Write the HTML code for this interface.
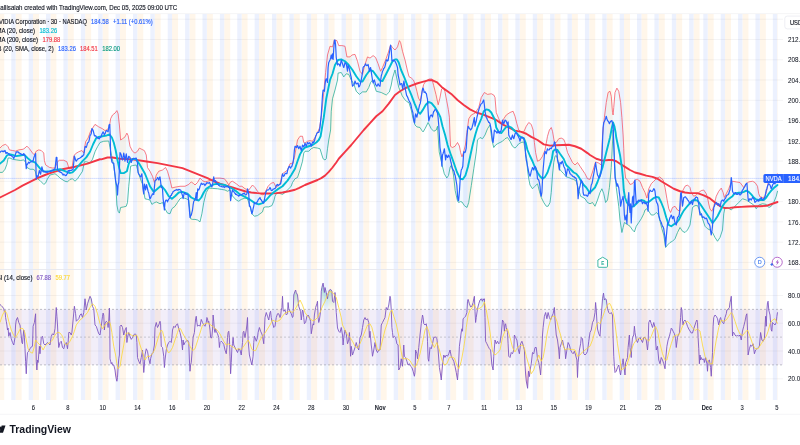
<!DOCTYPE html><html><head><meta charset="utf-8"><style>
html,body{margin:0;padding:0;background:#fff;}body{width:800px;height:445px;overflow:hidden;position:relative;}
svg{position:absolute;left:0;top:0;}text{font-family:"Liberation Sans",sans-serif;}
</style></head><body>
<svg width="800" height="445" viewBox="0 0 800 445">
<defs><clipPath id="cm"><rect x="0" y="14" width="783" height="255"/></clipPath>
<clipPath id="cr"><rect x="0" y="270" width="783" height="130"/></clipPath>
<clipPath id="ca"><rect x="0" y="14" width="783" height="386"/></clipPath></defs>
<g clip-path="url(#ca)">
<rect x="777.20" y="14" width="0.54" height="386" fill="#fff6ea"/>
<rect x="759.82" y="14" width="5.98" height="386" fill="#fff6ea"/>
<rect x="772.85" y="14" width="4.35" height="386" fill="#ecf1fe"/>
<rect x="742.44" y="14" width="5.98" height="386" fill="#fff6ea"/>
<rect x="755.47" y="14" width="4.35" height="386" fill="#ecf1fe"/>
<rect x="725.05" y="14" width="5.98" height="386" fill="#fff6ea"/>
<rect x="738.09" y="14" width="4.35" height="386" fill="#ecf1fe"/>
<rect x="707.67" y="14" width="5.98" height="386" fill="#fff6ea"/>
<rect x="720.71" y="14" width="4.35" height="386" fill="#ecf1fe"/>
<rect x="693.55" y="14" width="5.98" height="386" fill="#fff6ea"/>
<rect x="703.32" y="14" width="4.35" height="386" fill="#ecf1fe"/>
<rect x="676.16" y="14" width="5.98" height="386" fill="#fff6ea"/>
<rect x="689.20" y="14" width="4.35" height="386" fill="#ecf1fe"/>
<rect x="658.78" y="14" width="5.98" height="386" fill="#fff6ea"/>
<rect x="671.82" y="14" width="4.35" height="386" fill="#ecf1fe"/>
<rect x="641.40" y="14" width="5.98" height="386" fill="#fff6ea"/>
<rect x="654.44" y="14" width="4.35" height="386" fill="#ecf1fe"/>
<rect x="624.02" y="14" width="5.98" height="386" fill="#fff6ea"/>
<rect x="637.05" y="14" width="4.35" height="386" fill="#ecf1fe"/>
<rect x="606.64" y="14" width="5.98" height="386" fill="#fff6ea"/>
<rect x="619.67" y="14" width="4.35" height="386" fill="#ecf1fe"/>
<rect x="589.25" y="14" width="5.98" height="386" fill="#fff6ea"/>
<rect x="602.29" y="14" width="4.35" height="386" fill="#ecf1fe"/>
<rect x="571.87" y="14" width="5.98" height="386" fill="#fff6ea"/>
<rect x="584.91" y="14" width="4.35" height="386" fill="#ecf1fe"/>
<rect x="554.49" y="14" width="5.98" height="386" fill="#fff6ea"/>
<rect x="567.52" y="14" width="4.35" height="386" fill="#ecf1fe"/>
<rect x="537.11" y="14" width="5.98" height="386" fill="#fff6ea"/>
<rect x="550.14" y="14" width="4.35" height="386" fill="#ecf1fe"/>
<rect x="519.72" y="14" width="5.98" height="386" fill="#fff6ea"/>
<rect x="532.76" y="14" width="4.35" height="386" fill="#ecf1fe"/>
<rect x="502.34" y="14" width="5.98" height="386" fill="#fff6ea"/>
<rect x="515.38" y="14" width="4.35" height="386" fill="#ecf1fe"/>
<rect x="484.96" y="14" width="5.98" height="386" fill="#fff6ea"/>
<rect x="498.00" y="14" width="4.35" height="386" fill="#ecf1fe"/>
<rect x="467.58" y="14" width="5.98" height="386" fill="#fff6ea"/>
<rect x="480.61" y="14" width="4.35" height="386" fill="#ecf1fe"/>
<rect x="450.19" y="14" width="5.98" height="386" fill="#fff6ea"/>
<rect x="463.23" y="14" width="4.35" height="386" fill="#ecf1fe"/>
<rect x="432.81" y="14" width="5.98" height="386" fill="#fff6ea"/>
<rect x="445.85" y="14" width="4.35" height="386" fill="#ecf1fe"/>
<rect x="415.43" y="14" width="5.98" height="386" fill="#fff6ea"/>
<rect x="428.47" y="14" width="4.35" height="386" fill="#ecf1fe"/>
<rect x="398.05" y="14" width="5.98" height="386" fill="#fff6ea"/>
<rect x="411.08" y="14" width="4.35" height="386" fill="#ecf1fe"/>
<rect x="380.66" y="14" width="5.98" height="386" fill="#fff6ea"/>
<rect x="393.70" y="14" width="4.35" height="386" fill="#ecf1fe"/>
<rect x="363.28" y="14" width="5.98" height="386" fill="#fff6ea"/>
<rect x="376.32" y="14" width="4.35" height="386" fill="#ecf1fe"/>
<rect x="345.90" y="14" width="5.98" height="386" fill="#fff6ea"/>
<rect x="358.94" y="14" width="4.35" height="386" fill="#ecf1fe"/>
<rect x="328.52" y="14" width="5.98" height="386" fill="#fff6ea"/>
<rect x="341.55" y="14" width="4.35" height="386" fill="#ecf1fe"/>
<rect x="311.13" y="14" width="5.98" height="386" fill="#fff6ea"/>
<rect x="324.17" y="14" width="4.35" height="386" fill="#ecf1fe"/>
<rect x="293.75" y="14" width="5.98" height="386" fill="#fff6ea"/>
<rect x="306.79" y="14" width="4.35" height="386" fill="#ecf1fe"/>
<rect x="276.37" y="14" width="5.98" height="386" fill="#fff6ea"/>
<rect x="289.41" y="14" width="4.35" height="386" fill="#ecf1fe"/>
<rect x="258.99" y="14" width="5.98" height="386" fill="#fff6ea"/>
<rect x="272.02" y="14" width="4.35" height="386" fill="#ecf1fe"/>
<rect x="241.60" y="14" width="5.98" height="386" fill="#fff6ea"/>
<rect x="254.64" y="14" width="4.35" height="386" fill="#ecf1fe"/>
<rect x="224.22" y="14" width="5.98" height="386" fill="#fff6ea"/>
<rect x="237.26" y="14" width="4.35" height="386" fill="#ecf1fe"/>
<rect x="206.84" y="14" width="5.98" height="386" fill="#fff6ea"/>
<rect x="219.88" y="14" width="4.35" height="386" fill="#ecf1fe"/>
<rect x="189.46" y="14" width="5.98" height="386" fill="#fff6ea"/>
<rect x="202.49" y="14" width="4.35" height="386" fill="#ecf1fe"/>
<rect x="172.08" y="14" width="5.98" height="386" fill="#fff6ea"/>
<rect x="185.11" y="14" width="4.35" height="386" fill="#ecf1fe"/>
<rect x="154.69" y="14" width="5.98" height="386" fill="#fff6ea"/>
<rect x="167.73" y="14" width="4.35" height="386" fill="#ecf1fe"/>
<rect x="137.31" y="14" width="5.98" height="386" fill="#fff6ea"/>
<rect x="150.35" y="14" width="4.35" height="386" fill="#ecf1fe"/>
<rect x="119.93" y="14" width="5.98" height="386" fill="#fff6ea"/>
<rect x="132.96" y="14" width="4.35" height="386" fill="#ecf1fe"/>
<rect x="102.55" y="14" width="5.98" height="386" fill="#fff6ea"/>
<rect x="115.58" y="14" width="4.35" height="386" fill="#ecf1fe"/>
<rect x="85.16" y="14" width="5.98" height="386" fill="#fff6ea"/>
<rect x="98.20" y="14" width="4.35" height="386" fill="#ecf1fe"/>
<rect x="67.78" y="14" width="5.98" height="386" fill="#fff6ea"/>
<rect x="80.82" y="14" width="4.35" height="386" fill="#ecf1fe"/>
<rect x="50.40" y="14" width="5.98" height="386" fill="#fff6ea"/>
<rect x="63.44" y="14" width="4.35" height="386" fill="#ecf1fe"/>
<rect x="33.02" y="14" width="5.98" height="386" fill="#fff6ea"/>
<rect x="46.05" y="14" width="4.35" height="386" fill="#ecf1fe"/>
<rect x="15.63" y="14" width="5.98" height="386" fill="#fff6ea"/>
<rect x="28.67" y="14" width="4.35" height="386" fill="#ecf1fe"/>
<rect x="-1.75" y="14" width="5.98" height="386" fill="#fff6ea"/>
<rect x="11.29" y="14" width="4.35" height="386" fill="#ecf1fe"/>
</g>
<g stroke="#2a2e39" stroke-opacity="0.05" stroke-width="1">
<line x1="0" x2="783" y1="19.24" y2="19.24"/>
<line x1="0" x2="783" y1="39.50" y2="39.50"/>
<line x1="0" x2="783" y1="59.76" y2="59.76"/>
<line x1="0" x2="783" y1="80.03" y2="80.03"/>
<line x1="0" x2="783" y1="100.29" y2="100.29"/>
<line x1="0" x2="783" y1="120.56" y2="120.56"/>
<line x1="0" x2="783" y1="140.82" y2="140.82"/>
<line x1="0" x2="783" y1="161.08" y2="161.08"/>
<line x1="0" x2="783" y1="181.35" y2="181.35"/>
<line x1="0" x2="783" y1="201.61" y2="201.61"/>
<line x1="0" x2="783" y1="221.88" y2="221.88"/>
<line x1="0" x2="783" y1="242.14" y2="242.14"/>
<line x1="0" x2="783" y1="262.40" y2="262.40"/>
<line x1="0" x2="783" y1="295.50" y2="295.50"/>
<line x1="0" x2="783" y1="323.25" y2="323.25"/>
<line x1="0" x2="783" y1="351.00" y2="351.00"/>
<line x1="0" x2="783" y1="378.75" y2="378.75"/>
</g>
<line x1="0" x2="800" y1="13.6" y2="13.6" stroke="#f1f2f4" stroke-width="0.8"/>
<line x1="0" x2="800" y1="269.5" y2="269.5" stroke="#e6e8ee" stroke-width="0.9"/>
<g clip-path="url(#cm)" fill="none" stroke-linejoin="round" stroke-linecap="round">
<polygon points="0.00,148.00 2.50,145.50 5.62,144.25 8.12,146.75 9.38,149.88 12.50,150.50 15.62,151.12 18.75,149.88 23.12,149.25 25.00,148.00 26.88,146.12 29.38,148.62 32.50,153.00 34.38,154.88 36.25,151.12 38.75,149.88 41.25,150.50 43.75,153.00 44.38,160.50 45.62,164.88 49.38,167.38 52.50,168.00 55.00,168.00 57.50,161.75 59.38,160.25 63.75,160.25 66.88,161.75 68.12,165.50 68.75,168.00 71.88,168.62 73.75,156.12 75.62,153.62 78.75,151.75 81.88,150.50 83.75,153.00 85.62,141.75 88.12,138.00 90.62,131.12 95.00,124.38 98.75,126.88 102.50,128.75 105.00,130.62 107.50,129.38 109.38,126.88 110.62,118.75 112.50,115.00 115.00,113.12 116.88,110.62 118.12,113.75 119.38,125.00 120.62,140.00 122.50,138.75 125.00,136.88 126.88,133.12 128.12,135.62 130.00,146.25 132.50,151.25 135.00,153.12 137.50,151.25 139.38,148.12 141.88,149.38 144.38,150.62 146.25,155.00 147.50,167.50 150.00,171.25 152.50,176.25 154.40,182.50 156.25,175.00 158.75,171.25 162.50,170.00 165.60,167.50 167.50,171.25 170.00,180.00 171.90,188.00 175.00,187.20 180.00,186.25 185.00,186.25 188.75,184.40 191.25,181.90 193.75,183.75 195.00,185.00 197.50,182.50 200.00,178.10 202.50,180.60 205.00,181.90 207.50,181.25 211.25,180.00 215.60,178.10 220.00,178.10 224.40,178.75 226.90,181.90 228.75,185.00 230.60,181.90 232.50,181.25 236.25,183.75 239.40,186.25 241.90,186.25 245.00,188.75 248.75,190.00 252.50,185.00 255.00,187.50 257.50,191.25 260.00,193.75 263.10,195.00 265.60,191.25 268.10,186.25 271.25,183.10 273.75,182.50 276.25,187.50 278.10,185.60 280.00,183.75 282.50,173.75 285.00,171.90 287.50,170.00 290.00,163.75 292.50,163.10 294.40,157.50 297.50,140.00 300.00,136.25 302.50,136.25 303.75,142.50 305.00,143.10 307.50,141.25 310.00,140.60 312.50,141.25 315.00,137.50 317.50,132.50 319.50,128.00 321.50,115.00 323.50,95.00 325.60,72.50 327.50,55.00 330.00,46.25 332.50,46.90 334.40,40.00 336.90,40.60 338.75,45.60 341.90,45.60 345.00,46.25 346.90,56.90 350.00,56.90 351.90,55.00 355.00,54.40 357.50,61.25 360.00,71.25 362.50,74.40 364.40,66.25 367.50,56.90 370.00,58.10 373.10,55.60 375.60,57.50 378.10,63.75 380.60,71.25 382.50,67.50 385.60,60.00 388.10,53.10 390.60,45.00 392.50,47.50 395.00,50.00 397.50,46.90 399.40,40.60 400.60,42.50 402.50,51.25 405.00,60.00 407.30,70.00 409.00,76.70 411.20,77.90 413.50,80.10 415.20,84.60 416.90,91.30 418.50,98.10 420.20,100.90 421.90,92.50 423.60,84.60 425.80,81.20 429.20,79.00 432.00,79.00 433.70,85.70 436.00,94.70 438.20,104.80 439.90,98.10 441.60,89.10 443.30,88.00 444.90,91.30 446.60,100.30 448.30,109.30 449.40,117.20 450.00,135.00 450.50,146.25 452.50,147.50 455.00,146.25 457.50,142.50 459.40,146.00 460.60,152.50 462.00,156.90 463.70,151.90 465.40,145.00 466.90,132.50 468.75,118.75 471.25,115.00 475.00,113.10 478.75,107.50 481.25,97.50 484.40,92.50 487.50,94.40 491.25,93.75 493.75,95.00 495.00,97.50 496.25,112.50 498.75,118.75 501.25,123.75 503.75,118.75 506.25,115.00 510.00,112.50 513.10,111.25 515.00,116.25 516.90,123.75 518.75,130.00 521.25,131.90 523.75,131.90 526.25,126.25 528.75,122.50 531.25,124.40 533.10,130.00 534.40,142.50 535.60,152.50 537.50,161.25 540.00,160.00 542.50,156.25 545.00,150.00 547.50,136.25 549.40,130.00 551.25,127.50 552.50,131.25 554.40,142.50 556.25,142.50 558.75,138.75 561.25,138.10 563.75,139.40 565.00,142.50 567.50,152.50 570.00,157.50 572.50,162.50 575.00,165.00 577.50,162.50 580.00,166.25 582.50,170.00 585.00,173.75 587.50,178.75 590.00,179.40 592.50,172.00 595.60,161.90 598.75,163.10 601.25,165.00 602.50,136.00 604.40,117.50 606.25,102.50 608.10,92.50 610.00,91.25 611.25,96.25 612.50,112.50 613.10,115.00 613.75,107.50 615.00,92.50 616.90,88.10 618.75,91.25 620.60,102.50 621.90,117.50 623.10,135.00 623.75,148.75 624.40,167.50 625.60,178.00 627.50,180.00 630.00,184.40 632.50,183.75 635.00,180.00 637.50,179.40 640.00,181.25 642.50,187.50 645.00,192.50 646.90,198.10 648.75,188.75 651.25,183.75 653.75,181.25 656.25,178.75 659.40,176.90 661.25,178.10 663.10,180.00 665.00,187.50 666.90,198.75 668.75,208.75 670.60,212.50 672.50,207.50 675.00,206.25 677.50,210.00 680.00,211.25 681.25,195.00 683.10,190.00 685.00,186.25 687.50,185.00 690.00,187.50 691.25,192.50 693.75,196.25 696.25,195.00 698.75,192.50 701.25,190.60 703.75,190.00 706.25,193.75 707.50,197.50 708.75,204.00 710.00,209.00 711.90,211.25 713.75,206.25 715.60,198.75 716.25,196.25 718.75,191.25 721.25,188.10 723.10,192.50 724.40,197.50 726.25,193.75 728.75,188.75 730.60,183.75 732.50,181.25 736.25,181.90 740.00,182.50 741.90,185.00 743.75,187.50 746.25,183.75 748.75,181.90 752.50,181.25 755.00,182.50 757.50,186.25 758.75,193.75 760.00,196.90 762.50,197.50 765.00,196.90 766.90,190.00 768.10,182.50 770.00,178.00 773.00,176.00 777.50,174.00 777.50,191.25 776.25,196.25 773.75,202.50 771.25,206.25 768.75,207.50 766.25,204.40 762.50,203.75 758.75,205.00 756.25,208.75 753.75,205.00 750.00,202.50 746.25,200.00 742.50,198.75 738.75,202.50 735.00,206.25 731.25,210.00 727.50,207.50 725.00,207.50 723.75,213.75 722.50,230.00 720.00,237.50 717.50,241.25 715.00,237.50 712.50,232.50 710.00,230.00 707.50,228.75 705.00,226.25 702.50,218.75 700.00,211.25 697.50,205.60 695.00,205.60 692.50,207.50 690.00,225.00 687.50,230.00 685.00,232.50 682.50,231.25 680.00,227.50 677.50,232.50 675.00,238.75 672.50,241.25 670.00,242.50 667.50,245.00 665.60,247.50 663.75,235.00 661.90,228.75 660.00,221.25 658.10,214.00 656.25,212.50 653.75,215.00 651.25,215.00 648.75,211.25 646.90,208.75 645.00,210.00 643.75,213.75 641.25,218.75 638.75,222.50 636.25,226.25 634.40,231.90 632.50,230.00 630.00,226.25 628.10,225.00 626.25,223.75 624.40,222.50 623.10,227.50 621.90,232.50 620.00,220.00 618.75,206.25 616.25,187.50 615.00,170.00 614.00,150.00 613.10,130.00 611.90,155.00 611.25,167.50 610.60,175.00 609.40,187.50 607.50,200.00 605.60,202.50 603.75,193.75 601.90,188.75 600.00,192.50 597.50,200.00 595.00,206.25 592.50,202.50 590.00,203.75 587.50,202.50 585.00,198.75 583.10,197.50 580.60,196.25 578.75,190.00 576.25,181.25 573.75,179.40 571.25,178.75 568.75,177.50 566.25,176.90 563.75,173.75 561.25,171.25 559.40,168.75 557.50,158.75 556.25,155.60 555.00,156.25 553.75,162.50 552.50,175.00 551.25,192.50 550.00,202.50 548.10,206.25 546.25,206.25 543.75,202.50 541.25,197.50 539.40,191.25 537.50,183.75 535.00,186.25 532.50,188.75 530.00,185.00 528.75,178.75 527.50,170.00 526.90,160.00 525.60,152.50 523.75,141.90 521.25,142.50 518.75,143.75 516.90,146.25 515.00,148.10 512.50,146.25 510.00,141.25 507.50,137.50 505.00,138.75 502.50,141.25 500.00,142.50 497.50,143.75 495.60,145.00 493.75,147.50 492.50,142.50 491.25,135.00 490.00,125.00 487.50,128.75 485.00,135.00 482.50,138.75 480.00,137.50 477.50,140.00 476.30,151.90 473.80,168.70 471.30,185.60 468.70,202.50 467.00,207.50 464.50,205.80 462.00,202.00 460.50,201.60 458.60,202.50 457.50,201.00 455.20,190.60 453.50,175.00 451.50,165.00 450.20,167.00 448.50,175.50 446.80,178.00 444.30,173.80 441.75,163.70 439.20,151.90 437.50,126.25 436.25,130.00 433.75,131.25 431.25,128.75 429.40,125.00 428.10,122.50 426.90,125.00 425.00,128.75 423.10,131.90 421.90,130.60 420.00,127.50 416.90,126.90 415.00,125.00 413.10,118.75 411.25,110.00 409.00,102.60 406.70,101.50 404.50,99.20 402.20,95.80 400.00,90.20 398.75,87.50 395.00,70.00 392.50,78.00 391.25,85.00 389.40,91.90 386.25,95.00 381.25,92.50 376.25,91.25 374.00,84.00 372.50,80.00 370.60,82.50 368.75,87.50 366.25,91.90 362.50,91.90 359.40,94.40 356.25,91.25 353.75,83.75 351.25,80.00 348.75,74.40 346.25,73.75 343.75,76.90 341.25,72.50 338.10,73.10 337.50,80.00 335.00,90.00 332.50,98.75 331.25,111.25 330.60,130.00 328.75,140.00 327.50,148.75 326.25,158.75 325.00,160.00 323.10,158.75 321.90,155.00 320.00,148.75 317.50,148.10 313.75,147.50 311.25,148.75 308.75,151.25 305.00,151.25 303.75,153.10 302.50,161.25 300.00,170.00 297.50,177.50 295.00,178.75 292.50,182.50 291.25,186.00 290.00,187.50 287.50,190.00 285.00,192.50 282.50,194.40 278.75,193.10 276.25,193.75 275.00,196.25 273.75,201.25 271.90,205.60 268.75,206.90 265.60,206.90 263.75,207.50 262.50,211.90 260.00,213.75 257.50,215.60 254.40,216.25 251.90,213.75 250.00,206.25 247.50,198.75 245.00,198.10 241.25,199.40 238.75,201.25 236.25,200.00 232.50,196.00 230.00,190.00 227.50,191.25 225.00,190.00 221.25,189.40 217.50,188.75 212.50,188.40 208.75,188.10 206.25,192.50 203.75,202.50 201.90,213.75 200.00,221.90 197.50,220.00 195.00,219.40 192.50,219.40 190.60,218.75 188.75,200.00 186.25,198.75 182.50,197.50 180.00,198.75 177.50,202.50 175.00,206.25 171.90,208.75 170.00,213.75 167.50,213.10 165.00,208.75 162.50,202.50 160.00,203.75 156.25,201.90 153.75,203.10 151.90,204.40 150.00,200.00 147.50,199.40 145.00,198.75 142.50,184.00 141.25,181.25 138.10,171.90 136.25,165.00 132.50,165.60 130.60,166.25 129.40,180.00 128.75,186.25 127.50,202.50 126.25,206.25 123.75,206.90 120.60,207.50 119.40,213.10 118.10,211.25 116.90,205.00 115.60,180.00 113.75,166.25 110.00,147.50 108.75,141.00 103.75,141.25 100.00,142.50 97.50,146.75 95.00,151.75 92.50,159.25 90.00,163.00 86.25,161.75 84.38,161.75 82.50,171.25 80.00,175.00 77.50,178.75 75.00,181.25 72.50,178.75 70.00,179.38 67.50,181.88 65.00,181.25 60.00,178.12 57.50,175.62 55.00,173.75 50.00,175.00 47.50,178.75 45.62,183.12 43.75,184.38 40.00,180.50 38.12,179.25 36.25,175.50 35.00,170.50 33.12,169.25 30.00,169.25 26.88,167.38 25.62,162.38 23.75,159.88 20.62,160.50 16.25,159.88 12.50,159.25 10.00,158.00 8.12,158.00 6.88,164.25 5.00,169.25 2.50,172.38 0.00,172.38" fill="rgba(33,150,243,0.06)" stroke="none"/>
<polyline points="0.00,148.00 2.50,145.50 5.62,144.25 8.12,146.75 9.38,149.88 12.50,150.50 15.62,151.12 18.75,149.88 23.12,149.25 25.00,148.00 26.88,146.12 29.38,148.62 32.50,153.00 34.38,154.88 36.25,151.12 38.75,149.88 41.25,150.50 43.75,153.00 44.38,160.50 45.62,164.88 49.38,167.38 52.50,168.00 55.00,168.00 57.50,161.75 59.38,160.25 63.75,160.25 66.88,161.75 68.12,165.50 68.75,168.00 71.88,168.62 73.75,156.12 75.62,153.62 78.75,151.75 81.88,150.50 83.75,153.00 85.62,141.75 88.12,138.00 90.62,131.12 95.00,124.38 98.75,126.88 102.50,128.75 105.00,130.62 107.50,129.38 109.38,126.88 110.62,118.75 112.50,115.00 115.00,113.12 116.88,110.62 118.12,113.75 119.38,125.00 120.62,140.00 122.50,138.75 125.00,136.88 126.88,133.12 128.12,135.62 130.00,146.25 132.50,151.25 135.00,153.12 137.50,151.25 139.38,148.12 141.88,149.38 144.38,150.62 146.25,155.00 147.50,167.50 150.00,171.25 152.50,176.25 154.40,182.50 156.25,175.00 158.75,171.25 162.50,170.00 165.60,167.50 167.50,171.25 170.00,180.00 171.90,188.00 175.00,187.20 180.00,186.25 185.00,186.25 188.75,184.40 191.25,181.90 193.75,183.75 195.00,185.00 197.50,182.50 200.00,178.10 202.50,180.60 205.00,181.90 207.50,181.25 211.25,180.00 215.60,178.10 220.00,178.10 224.40,178.75 226.90,181.90 228.75,185.00 230.60,181.90 232.50,181.25 236.25,183.75 239.40,186.25 241.90,186.25 245.00,188.75 248.75,190.00 252.50,185.00 255.00,187.50 257.50,191.25 260.00,193.75 263.10,195.00 265.60,191.25 268.10,186.25 271.25,183.10 273.75,182.50 276.25,187.50 278.10,185.60 280.00,183.75 282.50,173.75 285.00,171.90 287.50,170.00 290.00,163.75 292.50,163.10 294.40,157.50 297.50,140.00 300.00,136.25 302.50,136.25 303.75,142.50 305.00,143.10 307.50,141.25 310.00,140.60 312.50,141.25 315.00,137.50 317.50,132.50 319.50,128.00 321.50,115.00 323.50,95.00 325.60,72.50 327.50,55.00 330.00,46.25 332.50,46.90 334.40,40.00 336.90,40.60 338.75,45.60 341.90,45.60 345.00,46.25 346.90,56.90 350.00,56.90 351.90,55.00 355.00,54.40 357.50,61.25 360.00,71.25 362.50,74.40 364.40,66.25 367.50,56.90 370.00,58.10 373.10,55.60 375.60,57.50 378.10,63.75 380.60,71.25 382.50,67.50 385.60,60.00 388.10,53.10 390.60,45.00 392.50,47.50 395.00,50.00 397.50,46.90 399.40,40.60 400.60,42.50 402.50,51.25 405.00,60.00 407.30,70.00 409.00,76.70 411.20,77.90 413.50,80.10 415.20,84.60 416.90,91.30 418.50,98.10 420.20,100.90 421.90,92.50 423.60,84.60 425.80,81.20 429.20,79.00 432.00,79.00 433.70,85.70 436.00,94.70 438.20,104.80 439.90,98.10 441.60,89.10 443.30,88.00 444.90,91.30 446.60,100.30 448.30,109.30 449.40,117.20 450.00,135.00 450.50,146.25 452.50,147.50 455.00,146.25 457.50,142.50 459.40,146.00 460.60,152.50 462.00,156.90 463.70,151.90 465.40,145.00 466.90,132.50 468.75,118.75 471.25,115.00 475.00,113.10 478.75,107.50 481.25,97.50 484.40,92.50 487.50,94.40 491.25,93.75 493.75,95.00 495.00,97.50 496.25,112.50 498.75,118.75 501.25,123.75 503.75,118.75 506.25,115.00 510.00,112.50 513.10,111.25 515.00,116.25 516.90,123.75 518.75,130.00 521.25,131.90 523.75,131.90 526.25,126.25 528.75,122.50 531.25,124.40 533.10,130.00 534.40,142.50 535.60,152.50 537.50,161.25 540.00,160.00 542.50,156.25 545.00,150.00 547.50,136.25 549.40,130.00 551.25,127.50 552.50,131.25 554.40,142.50 556.25,142.50 558.75,138.75 561.25,138.10 563.75,139.40 565.00,142.50 567.50,152.50 570.00,157.50 572.50,162.50 575.00,165.00 577.50,162.50 580.00,166.25 582.50,170.00 585.00,173.75 587.50,178.75 590.00,179.40 592.50,172.00 595.60,161.90 598.75,163.10 601.25,165.00 602.50,136.00 604.40,117.50 606.25,102.50 608.10,92.50 610.00,91.25 611.25,96.25 612.50,112.50 613.10,115.00 613.75,107.50 615.00,92.50 616.90,88.10 618.75,91.25 620.60,102.50 621.90,117.50 623.10,135.00 623.75,148.75 624.40,167.50 625.60,178.00 627.50,180.00 630.00,184.40 632.50,183.75 635.00,180.00 637.50,179.40 640.00,181.25 642.50,187.50 645.00,192.50 646.90,198.10 648.75,188.75 651.25,183.75 653.75,181.25 656.25,178.75 659.40,176.90 661.25,178.10 663.10,180.00 665.00,187.50 666.90,198.75 668.75,208.75 670.60,212.50 672.50,207.50 675.00,206.25 677.50,210.00 680.00,211.25 681.25,195.00 683.10,190.00 685.00,186.25 687.50,185.00 690.00,187.50 691.25,192.50 693.75,196.25 696.25,195.00 698.75,192.50 701.25,190.60 703.75,190.00 706.25,193.75 707.50,197.50 708.75,204.00 710.00,209.00 711.90,211.25 713.75,206.25 715.60,198.75 716.25,196.25 718.75,191.25 721.25,188.10 723.10,192.50 724.40,197.50 726.25,193.75 728.75,188.75 730.60,183.75 732.50,181.25 736.25,181.90 740.00,182.50 741.90,185.00 743.75,187.50 746.25,183.75 748.75,181.90 752.50,181.25 755.00,182.50 757.50,186.25 758.75,193.75 760.00,196.90 762.50,197.50 765.00,196.90 766.90,190.00 768.10,182.50 770.00,178.00 773.00,176.00 777.50,174.00" stroke="#f7525f" stroke-width="0.75"/>
<polyline points="0.00,172.38 2.50,172.38 5.00,169.25 6.88,164.25 8.12,158.00 10.00,158.00 12.50,159.25 16.25,159.88 20.62,160.50 23.75,159.88 25.62,162.38 26.88,167.38 30.00,169.25 33.12,169.25 35.00,170.50 36.25,175.50 38.12,179.25 40.00,180.50 43.75,184.38 45.62,183.12 47.50,178.75 50.00,175.00 55.00,173.75 57.50,175.62 60.00,178.12 65.00,181.25 67.50,181.88 70.00,179.38 72.50,178.75 75.00,181.25 77.50,178.75 80.00,175.00 82.50,171.25 84.38,161.75 86.25,161.75 90.00,163.00 92.50,159.25 95.00,151.75 97.50,146.75 100.00,142.50 103.75,141.25 108.75,141.00 110.00,147.50 113.75,166.25 115.60,180.00 116.90,205.00 118.10,211.25 119.40,213.10 120.60,207.50 123.75,206.90 126.25,206.25 127.50,202.50 128.75,186.25 129.40,180.00 130.60,166.25 132.50,165.60 136.25,165.00 138.10,171.90 141.25,181.25 142.50,184.00 145.00,198.75 147.50,199.40 150.00,200.00 151.90,204.40 153.75,203.10 156.25,201.90 160.00,203.75 162.50,202.50 165.00,208.75 167.50,213.10 170.00,213.75 171.90,208.75 175.00,206.25 177.50,202.50 180.00,198.75 182.50,197.50 186.25,198.75 188.75,200.00 190.60,218.75 192.50,219.40 195.00,219.40 197.50,220.00 200.00,221.90 201.90,213.75 203.75,202.50 206.25,192.50 208.75,188.10 212.50,188.40 217.50,188.75 221.25,189.40 225.00,190.00 227.50,191.25 230.00,190.00 232.50,196.00 236.25,200.00 238.75,201.25 241.25,199.40 245.00,198.10 247.50,198.75 250.00,206.25 251.90,213.75 254.40,216.25 257.50,215.60 260.00,213.75 262.50,211.90 263.75,207.50 265.60,206.90 268.75,206.90 271.90,205.60 273.75,201.25 275.00,196.25 276.25,193.75 278.75,193.10 282.50,194.40 285.00,192.50 287.50,190.00 290.00,187.50 291.25,186.00 292.50,182.50 295.00,178.75 297.50,177.50 300.00,170.00 302.50,161.25 303.75,153.10 305.00,151.25 308.75,151.25 311.25,148.75 313.75,147.50 317.50,148.10 320.00,148.75 321.90,155.00 323.10,158.75 325.00,160.00 326.25,158.75 327.50,148.75 328.75,140.00 330.60,130.00 331.25,111.25 332.50,98.75 335.00,90.00 337.50,80.00 338.10,73.10 341.25,72.50 343.75,76.90 346.25,73.75 348.75,74.40 351.25,80.00 353.75,83.75 356.25,91.25 359.40,94.40 362.50,91.90 366.25,91.90 368.75,87.50 370.60,82.50 372.50,80.00 374.00,84.00 376.25,91.25 381.25,92.50 386.25,95.00 389.40,91.90 391.25,85.00 392.50,78.00 395.00,70.00 398.75,87.50 400.00,90.20 402.20,95.80 404.50,99.20 406.70,101.50 409.00,102.60 411.25,110.00 413.10,118.75 415.00,125.00 416.90,126.90 420.00,127.50 421.90,130.60 423.10,131.90 425.00,128.75 426.90,125.00 428.10,122.50 429.40,125.00 431.25,128.75 433.75,131.25 436.25,130.00 437.50,126.25 439.20,151.90 441.75,163.70 444.30,173.80 446.80,178.00 448.50,175.50 450.20,167.00 451.50,165.00 453.50,175.00 455.20,190.60 457.50,201.00 458.60,202.50 460.50,201.60 462.00,202.00 464.50,205.80 467.00,207.50 468.70,202.50 471.30,185.60 473.80,168.70 476.30,151.90 477.50,140.00 480.00,137.50 482.50,138.75 485.00,135.00 487.50,128.75 490.00,125.00 491.25,135.00 492.50,142.50 493.75,147.50 495.60,145.00 497.50,143.75 500.00,142.50 502.50,141.25 505.00,138.75 507.50,137.50 510.00,141.25 512.50,146.25 515.00,148.10 516.90,146.25 518.75,143.75 521.25,142.50 523.75,141.90 525.60,152.50 526.90,160.00 527.50,170.00 528.75,178.75 530.00,185.00 532.50,188.75 535.00,186.25 537.50,183.75 539.40,191.25 541.25,197.50 543.75,202.50 546.25,206.25 548.10,206.25 550.00,202.50 551.25,192.50 552.50,175.00 553.75,162.50 555.00,156.25 556.25,155.60 557.50,158.75 559.40,168.75 561.25,171.25 563.75,173.75 566.25,176.90 568.75,177.50 571.25,178.75 573.75,179.40 576.25,181.25 578.75,190.00 580.60,196.25 583.10,197.50 585.00,198.75 587.50,202.50 590.00,203.75 592.50,202.50 595.00,206.25 597.50,200.00 600.00,192.50 601.90,188.75 603.75,193.75 605.60,202.50 607.50,200.00 609.40,187.50 610.60,175.00 611.25,167.50 611.90,155.00 613.10,130.00 614.00,150.00 615.00,170.00 616.25,187.50 618.75,206.25 620.00,220.00 621.90,232.50 623.10,227.50 624.40,222.50 626.25,223.75 628.10,225.00 630.00,226.25 632.50,230.00 634.40,231.90 636.25,226.25 638.75,222.50 641.25,218.75 643.75,213.75 645.00,210.00 646.90,208.75 648.75,211.25 651.25,215.00 653.75,215.00 656.25,212.50 658.10,214.00 660.00,221.25 661.90,228.75 663.75,235.00 665.60,247.50 667.50,245.00 670.00,242.50 672.50,241.25 675.00,238.75 677.50,232.50 680.00,227.50 682.50,231.25 685.00,232.50 687.50,230.00 690.00,225.00 692.50,207.50 695.00,205.60 697.50,205.60 700.00,211.25 702.50,218.75 705.00,226.25 707.50,228.75 710.00,230.00 712.50,232.50 715.00,237.50 717.50,241.25 720.00,237.50 722.50,230.00 723.75,213.75 725.00,207.50 727.50,207.50 731.25,210.00 735.00,206.25 738.75,202.50 742.50,198.75 746.25,200.00 750.00,202.50 753.75,205.00 756.25,208.75 758.75,205.00 762.50,203.75 766.25,204.40 768.75,207.50 771.25,206.25 773.75,202.50 776.25,196.25 777.50,191.25" stroke="#22ab94" stroke-width="0.75"/>
<line x1="0" x2="783" y1="178.41" y2="178.41" stroke="#2962ff" stroke-opacity="0.35" stroke-width="0.6" stroke-dasharray="1,1"/>
<polyline points="0.00,197.50 7.50,193.75 15.00,190.00 22.50,185.62 30.00,181.88 37.50,178.12 45.00,175.00 50.00,173.12 62.50,169.25 75.00,166.75 87.50,163.62 100.00,159.25 101.25,159.38 107.50,157.50 112.50,157.50 120.00,158.75 132.50,159.38 145.00,161.25 157.50,163.12 170.00,165.62 182.50,168.12 195.00,173.12 201.25,175.60 207.50,178.10 213.75,181.25 220.00,183.75 226.25,185.60 232.50,187.50 238.75,189.40 245.00,191.25 251.25,192.50 257.50,193.10 263.75,193.50 270.00,193.50 276.25,193.10 282.50,192.50 288.75,191.25 295.00,189.75 298.75,188.10 305.00,185.00 311.25,182.50 317.50,180.00 321.25,178.10 325.00,175.60 328.75,171.90 332.50,167.50 336.25,162.50 338.75,158.75 345.00,151.90 351.25,145.00 357.50,137.50 363.75,130.00 370.00,123.10 376.25,116.25 382.50,111.25 388.75,103.60 395.00,95.00 400.00,91.30 405.60,88.00 411.20,85.70 416.90,83.50 422.50,81.80 428.10,80.30 432.60,80.30 437.10,82.40 441.60,86.90 446.10,90.20 451.25,93.90 457.50,100.00 463.75,105.00 470.00,109.40 476.25,112.50 482.50,114.40 488.75,116.90 495.00,119.40 496.25,120.00 502.50,124.40 508.75,127.50 515.00,130.60 521.25,131.90 526.25,133.75 531.25,136.90 537.50,140.00 543.75,144.40 550.00,145.60 556.25,145.25 562.50,145.00 568.75,144.75 575.00,146.25 581.25,148.75 587.50,153.10 590.00,155.00 596.25,158.75 602.50,160.60 608.75,160.00 612.50,160.00 616.25,161.25 620.00,163.75 625.00,166.90 630.00,170.00 635.00,172.50 640.00,173.75 646.25,175.60 652.50,176.90 657.50,178.75 661.25,181.25 667.50,185.00 673.75,188.75 680.00,191.25 685.00,192.50 690.00,193.10 697.50,193.10 703.75,195.30 710.00,198.40 716.25,203.40 721.25,206.90 725.00,208.10 730.00,207.90 735.00,207.25 741.25,206.90 747.50,206.50 753.75,206.25 760.00,206.25 766.25,205.80 772.50,203.75 777.50,202.00" stroke="#f23645" stroke-width="1.9"/>
<polyline points="0.00,163.62 3.75,160.50 6.88,155.50 9.38,154.25 12.50,154.88 16.25,156.12 20.00,155.50 24.38,154.88 27.50,158.00 31.25,161.12 35.00,162.38 38.12,166.12 41.25,169.88 45.00,171.75 50.00,171.12 55.00,169.88 60.00,169.25 65.00,171.12 69.38,173.00 72.50,172.38 75.62,169.25 78.75,165.50 82.50,161.12 86.25,157.38 90.00,151.75 93.12,144.25 96.25,138.00 98.75,136.88 102.50,136.25 106.25,135.62 109.38,134.38 111.88,137.50 113.75,142.50 115.62,150.00 117.50,160.00 119.40,168.75 120.60,173.10 123.75,173.10 126.90,171.25 128.75,163.75 130.60,160.00 133.10,158.75 136.25,159.40 140.00,165.00 145.00,173.75 147.50,180.00 150.00,186.25 153.75,191.90 157.50,188.75 161.25,185.60 165.00,190.00 168.75,196.25 171.90,198.75 175.00,196.25 178.75,192.50 182.50,191.90 187.50,193.75 191.25,197.50 195.00,199.40 198.75,200.50 201.25,197.50 203.75,192.50 206.25,188.75 210.00,186.25 213.75,184.40 217.50,183.75 221.25,184.40 225.00,185.00 228.75,186.90 232.50,188.75 236.25,191.25 240.00,194.40 245.00,196.90 250.00,199.70 255.00,203.10 258.75,204.40 262.50,203.10 266.25,200.00 270.00,195.60 273.75,192.20 277.50,189.40 282.50,186.25 287.50,180.60 291.25,175.00 295.00,168.75 297.50,161.25 300.00,154.40 302.50,150.00 305.00,147.50 308.75,146.25 312.50,145.00 316.25,142.50 318.75,140.00 320.60,136.25 323.75,117.50 326.25,98.75 328.75,86.25 330.00,80.00 332.50,73.75 335.00,65.00 338.10,60.00 341.25,59.40 345.00,61.25 348.75,65.00 352.50,70.00 356.25,76.25 360.00,81.25 362.50,81.50 366.25,75.00 370.00,70.00 373.10,71.25 376.25,75.60 380.00,80.60 382.50,81.00 386.25,73.75 390.00,66.25 392.50,61.25 395.00,59.40 396.90,59.40 398.75,62.50 401.10,70.00 404.50,77.90 407.90,86.90 411.20,94.70 414.60,103.70 418.00,111.60 420.20,113.80 422.50,110.40 425.80,104.80 428.70,102.00 431.50,103.10 434.80,107.10 438.20,112.70 440.40,117.20 442.50,126.25 445.10,135.00 447.60,145.00 451.00,155.20 453.50,162.00 456.90,172.00 460.30,178.80 462.80,179.30 465.40,175.50 467.90,167.00 470.40,155.20 473.00,143.40 475.50,134.00 477.50,127.50 481.25,118.75 483.75,111.25 486.25,109.40 488.75,110.00 491.25,112.50 493.75,117.50 495.00,120.00 496.25,127.50 498.75,131.90 501.25,133.10 503.75,130.00 506.25,126.90 508.75,126.25 511.25,127.50 513.75,130.00 516.25,132.50 518.75,135.60 521.25,137.50 523.75,138.10 525.60,142.50 527.50,150.00 530.00,156.00 532.50,161.25 535.00,167.50 537.50,172.50 540.00,176.25 542.50,178.75 545.00,176.90 547.50,172.50 550.00,165.00 551.90,158.75 553.10,151.25 555.00,149.40 557.50,150.00 560.00,153.75 563.75,159.00 566.25,165.00 568.75,167.50 571.25,170.00 573.75,172.50 576.25,173.75 578.75,176.90 581.25,181.25 583.75,185.00 586.25,187.50 588.75,191.25 590.00,192.50 592.50,190.00 595.00,187.50 597.50,182.00 600.00,175.00 602.50,167.50 605.00,157.50 607.50,147.50 610.00,137.50 611.90,127.50 613.10,122.50 614.40,126.25 615.60,132.50 616.25,137.50 618.10,146.25 620.00,155.00 621.90,167.50 623.10,180.00 623.75,190.00 625.00,197.50 626.90,202.50 628.75,205.00 631.25,206.90 633.75,206.25 636.25,203.75 638.75,201.25 641.25,200.00 643.75,200.60 646.25,202.50 648.75,201.90 651.25,200.00 653.75,198.10 656.25,196.90 658.75,197.50 661.25,202.50 663.75,208.75 666.25,217.50 668.75,225.00 671.25,226.25 673.75,224.40 676.25,223.10 678.75,220.00 681.25,215.00 683.75,210.60 686.25,207.50 690.00,203.10 692.50,200.50 695.00,200.00 697.50,200.60 700.00,203.75 702.50,207.50 705.00,211.25 707.50,215.00 710.00,218.75 712.50,223.10 715.00,220.00 717.50,216.25 720.00,211.25 722.50,206.25 725.00,202.50 727.50,200.00 730.00,198.10 732.50,196.25 733.75,194.40 736.25,193.10 738.75,192.75 741.25,192.75 743.75,191.90 746.25,190.60 748.75,191.90 751.25,194.40 753.75,197.50 756.25,199.40 758.75,200.00 761.25,200.00 763.75,200.00 766.25,197.50 768.75,193.75 771.25,190.60 773.75,188.10 777.50,185.00" stroke="#00bcd4" stroke-width="1.9"/>
<polyline points="0.00,152.38 0.63,151.71 1.25,151.05 1.88,151.12 2.50,151.54 3.13,150.94 3.75,151.75 4.38,151.18 5.00,150.50 6.00,153.62 6.88,152.38 7.50,152.81 8.12,153.62 8.75,153.63 9.38,154.88 10.00,155.20 10.62,155.50 11.25,155.27 11.87,156.24 12.50,156.75 13.12,157.08 13.75,158.62 14.38,156.80 15.00,156.12 15.62,153.83 16.25,151.75 16.88,152.21 17.50,151.75 18.12,151.85 18.75,153.00 19.37,152.82 20.00,153.59 20.62,153.62 21.25,154.56 21.88,154.25 22.50,154.67 23.12,154.88 23.75,153.62 24.38,154.42 25.00,155.50 25.62,160.50 26.25,168.62 26.88,164.25 27.50,164.29 28.12,163.00 28.75,162.16 29.37,163.09 30.00,162.38 30.63,161.88 31.25,161.46 31.88,161.75 32.50,160.90 33.12,161.12 33.75,158.00 34.38,156.17 35.00,154.88 35.62,153.62 36.25,179.25 36.88,175.50 37.50,176.57 38.12,176.75 38.75,173.18 39.38,170.50 40.00,172.49 40.62,174.25 41.25,170.69 41.88,166.75 42.50,169.07 43.12,171.75 43.75,171.82 44.38,171.75 45.00,171.35 45.63,171.55 46.25,172.38 46.88,171.81 47.50,172.32 48.12,171.81 48.75,171.75 49.38,171.33 50.00,171.55 50.62,171.21 51.25,171.12 51.87,170.43 52.50,170.71 53.12,169.88 53.75,169.95 54.37,169.10 55.00,169.25 55.62,163.42 56.25,157.38 56.88,157.38 57.50,169.25 58.12,170.22 58.75,171.12 59.38,171.96 60.00,171.75 60.62,172.39 61.25,172.38 61.88,173.02 62.50,174.25 63.13,175.13 63.75,174.14 64.38,174.88 65.00,174.97 65.63,175.65 66.25,175.50 66.88,174.07 67.50,173.62 68.12,170.50 68.75,170.79 69.38,171.12 70.00,170.16 70.62,170.50 71.25,170.43 71.88,169.88 72.50,169.94 73.12,169.25 73.75,162.79 74.38,156.12 75.00,158.00 75.62,160.09 76.25,161.12 76.87,160.03 77.50,159.73 78.12,158.62 78.75,158.55 79.37,158.32 80.00,158.00 80.63,157.31 81.25,157.22 81.88,156.12 82.50,156.33 83.13,155.26 83.75,154.88 84.38,151.04 85.00,146.75 85.62,146.45 86.25,147.38 86.88,145.47 87.50,143.00 88.12,142.58 88.75,141.75 89.38,139.32 90.00,135.50 90.62,135.01 91.25,133.62 91.88,128.62 92.50,129.26 93.12,130.50 93.75,132.84 94.38,135.50 95.00,136.15 95.63,135.66 96.25,136.75 96.87,137.32 97.50,137.53 98.12,138.62 98.75,138.15 99.38,138.75 100.00,137.30 100.63,137.46 101.25,136.25 101.87,134.27 102.50,132.98 103.12,131.88 103.75,133.29 104.38,135.00 105.00,133.96 105.62,131.88 106.25,130.66 106.88,130.62 107.50,131.18 108.12,131.88 109.00,125.00 109.75,124.38 110.25,137.50 110.62,155.00 111.25,158.51 111.88,161.88 112.50,162.83 113.13,163.15 113.75,163.12 114.37,169.67 115.00,174.90 115.62,181.25 116.25,183.63 116.88,186.25 117.25,191.25 117.50,195.00 118.10,185.00 118.75,182.50 119.40,168.75 120.00,152.50 120.62,153.55 121.25,155.00 121.88,158.04 122.50,160.00 123.12,157.19 123.75,153.10 124.38,156.69 125.00,161.25 125.62,157.05 126.25,153.75 126.88,157.75 127.50,162.50 128.12,159.00 128.75,156.25 129.38,156.85 130.00,157.50 130.62,160.12 131.25,162.50 131.88,160.62 132.50,159.40 133.13,158.49 133.77,158.85 134.40,158.75 135.02,158.35 135.63,158.41 136.25,158.10 136.88,160.93 137.50,162.50 138.10,172.50 138.75,174.02 139.40,175.00 140.00,175.97 140.60,176.90 141.25,175.49 141.90,173.75 142.50,182.12 143.10,190.00 143.75,194.00 144.40,184.00 145.00,186.38 145.60,190.00 146.50,184.50 147.50,188.75 148.12,191.43 148.75,193.00 149.38,196.39 150.00,199.00 150.62,198.02 151.25,196.00 151.88,195.29 152.50,193.75 153.12,193.92 153.75,194.40 154.38,187.68 155.00,181.25 155.62,180.07 156.25,180.00 156.88,178.94 157.50,177.50 158.12,178.14 158.75,180.00 159.38,177.84 160.00,176.90 160.62,181.79 161.25,187.50 161.88,187.65 162.50,188.75 163.10,198.75 163.75,204.15 164.40,210.00 165.00,202.50 165.62,200.62 166.25,200.00 166.88,200.25 167.50,201.90 168.12,200.31 168.75,199.14 169.38,198.41 170.00,197.50 170.63,195.59 171.27,195.52 171.90,193.75 172.52,193.08 173.13,191.59 173.75,191.25 174.38,190.59 175.00,190.41 175.62,190.12 176.25,190.00 176.88,189.32 177.50,190.19 178.12,190.24 178.75,189.40 179.37,189.55 179.98,189.78 180.60,190.00 181.25,191.30 181.90,193.75 182.50,195.69 183.10,198.75 183.75,195.40 184.40,192.50 185.02,192.80 185.63,194.23 186.25,194.40 186.87,194.13 187.48,194.13 188.10,195.00 188.73,203.13 189.37,210.04 190.00,217.50 190.62,215.76 191.25,215.00 191.88,212.56 192.50,210.00 193.12,204.96 193.75,201.25 194.38,200.66 195.00,200.00 195.60,197.50 196.25,192.50 196.90,200.00 197.75,188.75 198.75,190.00 199.38,188.79 200.00,186.25 200.62,185.18 201.25,183.10 201.88,184.02 202.50,184.40 203.12,183.74 203.75,183.75 204.38,184.49 205.00,185.60 205.63,184.10 206.27,183.91 206.90,182.50 207.50,182.85 208.10,183.10 208.75,183.19 209.40,182.50 210.00,183.51 210.60,185.00 211.25,185.56 211.90,186.90 212.50,184.51 213.10,181.25 213.75,176.90 214.40,181.25 215.00,181.60 215.60,180.60 216.25,182.34 216.90,183.10 217.50,184.18 218.10,184.40 218.75,185.45 219.40,185.60 220.00,186.26 220.60,186.25 221.23,186.08 221.87,186.71 222.50,186.90 223.13,186.90 223.77,186.64 224.40,187.50 225.02,186.64 225.63,186.79 226.25,186.90 226.87,186.35 227.48,186.74 228.10,186.25 228.75,187.51 229.40,187.50 230.00,190.00 230.60,200.60 231.25,196.48 231.90,192.50 232.50,190.00 233.12,191.24 233.75,191.25 234.38,192.86 235.00,193.10 235.63,194.37 236.27,194.18 236.90,195.00 237.52,195.03 238.13,195.45 238.75,196.25 239.37,195.41 239.98,195.00 240.60,195.00 241.23,194.76 241.87,194.73 242.50,193.75 243.13,194.01 243.77,193.29 244.40,193.10 245.00,194.26 245.60,195.00 246.25,194.79 246.90,193.75 247.50,188.75 248.10,191.25 248.75,194.00 249.40,206.25 250.00,206.29 250.60,207.50 251.25,210.85 251.90,213.75 252.50,211.82 253.10,208.75 253.75,206.02 254.40,202.50 255.02,203.27 255.63,203.30 256.25,203.75 256.87,202.05 257.48,201.65 258.10,200.00 258.73,198.93 259.37,198.75 260.00,197.50 260.63,199.41 261.27,199.85 261.90,201.25 262.52,201.73 263.13,203.11 263.75,203.10 264.38,199.99 265.00,196.25 265.62,193.29 266.25,191.25 266.87,190.31 267.48,189.93 268.10,190.00 268.73,189.73 269.37,188.76 270.00,187.50 270.62,188.55 271.25,190.60 271.87,190.52 272.48,190.21 273.10,189.00 273.73,189.14 274.37,188.62 275.00,188.75 275.63,187.57 276.27,185.73 276.90,185.00 277.52,184.32 278.13,185.66 278.75,185.00 279.37,184.79 279.98,184.20 280.60,183.75 281.23,181.02 281.87,176.99 282.50,173.75 283.12,175.52 283.75,176.25 284.38,175.46 285.00,173.75 285.63,173.35 286.27,173.40 286.90,173.75 287.50,170.96 288.10,168.75 288.75,167.14 289.40,166.25 290.00,167.30 290.60,168.10 291.25,166.84 291.90,166.25 292.50,164.26 293.10,162.50 293.75,157.50 294.40,150.00 295.00,146.25 295.62,146.36 296.25,147.50 296.88,147.12 297.50,145.60 298.12,146.97 298.75,148.75 299.38,147.44 300.00,146.25 300.62,148.54 301.25,150.60 301.88,148.37 302.50,145.00 303.12,145.84 303.75,146.90 304.38,145.58 305.00,143.10 305.62,144.68 306.25,146.25 306.88,144.42 307.50,142.50 308.12,143.16 308.75,143.75 309.38,142.75 310.00,143.10 310.62,144.59 311.25,146.25 311.88,143.93 312.50,142.50 313.12,141.81 313.75,142.50 314.38,141.04 315.00,138.75 315.62,136.42 316.25,135.00 316.90,133.10 317.50,132.50 318.12,132.46 318.75,132.50 319.38,130.32 320.00,127.50 320.62,121.33 321.25,115.00 321.90,105.00 322.50,95.00 323.10,90.00 323.75,90.38 324.40,91.25 325.00,85.00 325.60,80.00 326.25,78.75 326.88,80.65 327.50,82.50 328.10,67.50 328.75,62.50 329.38,61.33 330.00,60.00 330.62,57.90 331.25,55.00 331.90,58.75 332.50,53.75 333.10,59.40 333.75,49.15 334.40,40.00 335.00,40.00 335.60,45.00 336.25,57.50 336.88,61.33 337.50,65.00 338.12,64.02 338.75,63.75 339.38,64.69 340.00,66.25 340.62,63.51 341.25,60.00 341.88,61.89 342.50,63.75 343.12,65.71 343.75,67.50 344.38,65.36 345.00,62.50 345.62,63.70 346.25,63.75 346.88,67.42 347.50,71.25 348.10,65.00 348.75,67.03 349.40,68.75 350.00,71.88 350.60,75.00 351.25,77.50 351.90,82.50 352.50,86.25 353.13,85.43 353.77,84.85 354.40,83.75 355.00,81.00 355.62,82.43 356.25,84.00 356.87,83.75 357.48,83.37 358.10,83.10 358.75,86.90 359.38,86.57 360.00,85.00 360.62,82.78 361.25,80.00 361.87,76.36 362.48,72.29 363.10,67.50 363.75,66.54 364.40,66.25 365.00,65.08 365.60,63.75 366.25,65.30 366.90,65.60 367.50,65.48 368.10,64.40 368.75,67.32 369.40,71.25 370.00,68.85 370.60,67.50 371.25,71.79 371.90,76.25 372.50,80.00 373.10,83.00 373.75,80.90 374.40,80.00 375.00,82.14 375.60,85.00 376.25,85.03 376.90,86.25 377.50,85.24 378.10,83.75 378.73,84.98 379.37,85.97 380.00,86.25 380.62,80.64 381.25,76.00 381.88,73.93 382.50,71.25 383.12,70.22 383.75,68.25 384.38,68.04 385.00,66.25 385.62,63.78 386.25,60.00 386.87,59.81 387.48,61.03 388.10,60.60 388.75,56.41 389.40,52.50 390.00,48.73 390.60,45.00 391.25,50.00 391.90,60.60 392.50,60.99 393.10,60.00 393.73,60.88 394.37,60.36 395.00,61.25 395.62,62.40 396.25,63.75 396.88,65.65 397.50,67.50 398.10,75.00 398.75,77.90 399.40,81.25 400.00,85.00 400.57,84.07 401.13,83.75 401.70,83.50 402.25,86.61 402.80,89.10 403.35,84.48 403.90,81.20 404.50,84.68 405.10,88.00 405.90,91.82 406.70,95.80 407.27,96.26 407.83,97.83 408.40,99.20 408.97,100.51 409.53,101.48 410.10,102.60 410.65,103.69 411.20,106.00 411.77,108.91 412.33,110.87 412.90,112.70 413.75,120.00 414.60,123.00 415.20,116.00 415.70,113.80 416.30,116.16 416.90,117.20 417.45,114.40 418.00,112.70 418.55,109.57 419.10,107.10 419.65,104.76 420.20,103.70 420.75,100.74 421.30,97.00 421.90,92.73 422.50,89.10 423.00,88.00 423.60,89.73 424.20,92.50 424.75,92.09 425.30,91.90 425.85,93.33 426.40,93.60 426.95,96.85 427.50,99.20 428.10,110.40 428.75,121.00 429.40,119.00 430.20,116.00 431.25,115.00 431.88,115.66 432.50,117.00 433.12,113.63 433.75,111.25 434.38,110.91 435.00,109.40 435.62,109.80 436.25,110.00 436.88,111.78 437.50,113.00 438.10,117.50 438.75,125.00 439.38,135.68 440.00,147.50 440.62,151.26 441.25,156.25 441.90,166.25 442.50,155.00 443.12,153.39 443.75,151.25 444.40,148.75 445.00,154.27 445.60,160.00 446.25,155.00 446.88,155.65 447.50,157.50 448.12,156.86 448.75,155.00 449.38,156.44 450.00,157.50 450.63,161.09 451.27,163.25 451.90,167.00 452.70,169.20 453.50,170.40 454.07,171.49 454.63,174.31 455.20,175.50 455.77,178.80 456.33,182.01 456.90,185.60 457.80,199.00 458.60,200.80 459.50,190.60 460.30,177.20 461.25,170.00 462.00,168.70 462.80,166.20 463.70,151.90 464.27,151.97 464.83,152.50 465.40,151.90 466.25,148.00 466.90,137.50 467.50,130.00 468.10,126.25 468.75,127.18 469.40,128.75 470.00,128.86 470.60,130.00 471.25,129.09 471.90,128.10 472.50,125.56 473.10,123.75 473.75,120.08 474.40,117.50 475.00,126.25 475.62,123.28 476.25,121.25 476.88,117.50 477.50,115.00 478.12,112.08 478.75,110.00 479.38,107.86 480.00,106.25 480.62,104.73 481.25,103.75 481.88,103.49 482.50,102.50 483.12,100.96 483.75,100.00 484.40,105.00 485.00,111.25 485.62,114.38 486.25,117.50 486.88,118.30 487.50,120.00 488.12,121.04 488.75,122.50 489.38,122.45 490.00,123.75 490.62,126.53 491.25,130.00 491.88,134.95 492.50,141.25 493.10,142.50 493.75,136.58 494.40,130.00 495.00,130.70 495.60,131.25 496.25,131.74 496.90,133.10 497.50,132.14 498.10,131.25 498.75,132.78 499.40,133.10 500.02,131.52 500.63,131.48 501.25,130.00 501.88,124.91 502.50,120.00 503.12,121.87 503.75,123.75 504.38,122.34 505.00,120.00 505.62,120.48 506.25,121.25 506.88,123.13 507.50,125.00 508.10,121.90 508.75,135.00 509.38,136.51 510.00,137.50 510.62,139.13 511.25,139.40 511.88,136.98 512.50,135.00 513.12,137.34 513.75,138.75 514.38,136.54 515.00,133.75 515.62,133.32 516.25,132.50 516.88,133.62 517.50,135.00 518.12,136.04 518.75,137.50 519.38,138.75 520.00,141.25 520.62,138.86 521.25,137.50 521.88,136.90 522.50,137.50 523.12,138.14 523.75,138.10 524.38,141.21 525.00,145.00 525.60,155.00 526.25,160.00 526.88,162.65 527.50,166.25 528.12,168.79 528.75,172.50 529.38,174.85 530.00,176.25 530.62,174.27 531.25,171.25 531.88,169.61 532.50,167.50 533.12,168.44 533.75,170.00 534.38,167.76 535.00,166.25 535.62,167.21 536.25,168.75 536.90,172.50 537.50,178.75 538.12,179.32 538.75,180.00 539.38,182.65 540.00,186.25 540.60,193.75 541.25,196.25 541.90,192.50 542.50,180.00 543.10,170.00 543.75,162.50 544.40,155.00 545.00,151.25 545.62,152.42 546.25,153.75 546.88,150.92 547.50,148.75 548.12,150.02 548.75,150.00 549.38,149.71 550.00,148.10 550.62,148.49 551.25,148.75 551.88,147.14 552.50,146.25 553.12,146.28 553.75,145.00 554.40,141.90 555.00,142.50 555.60,147.50 556.25,152.50 556.90,151.25 557.50,160.00 558.12,162.23 558.75,165.00 559.40,170.00 560.00,162.50 560.62,162.92 561.25,163.75 561.88,161.80 562.50,161.25 563.12,163.58 563.75,166.25 564.38,167.46 565.00,168.75 565.62,172.50 566.25,176.25 566.88,172.08 567.50,168.75 568.12,169.38 568.75,170.00 569.38,171.18 570.00,173.75 570.62,174.04 571.25,175.00 571.88,175.05 572.50,176.25 573.12,176.43 573.75,176.90 574.38,176.86 575.00,178.10 575.62,177.76 576.25,178.75 576.88,182.23 577.50,186.25 578.10,198.75 578.75,191.25 579.38,188.38 580.00,186.25 580.62,183.24 581.25,180.00 581.88,181.29 582.50,182.50 583.10,192.50 583.75,195.00 584.38,195.35 585.00,195.00 585.62,195.22 586.25,195.00 586.88,195.93 587.50,196.25 588.12,194.91 588.75,192.50 589.38,192.97 590.00,193.75 590.62,189.13 591.25,185.00 591.88,183.80 592.50,181.25 593.12,177.13 593.75,174.00 594.38,170.44 595.00,166.25 595.60,162.50 596.25,167.50 596.88,171.45 597.50,175.00 598.12,175.91 598.75,178.10 599.38,177.64 600.00,176.25 600.62,174.30 601.25,171.25 601.90,161.25 602.50,142.50 603.10,127.50 603.75,122.50 604.38,121.43 605.00,120.00 605.62,118.45 606.25,116.25 606.90,118.75 607.50,120.44 608.10,121.25 608.75,122.00 609.40,123.75 610.00,122.53 610.60,121.25 611.25,120.93 611.90,120.60 612.50,123.27 613.10,125.00 613.75,142.50 614.40,161.25 615.00,177.50 615.60,180.00 616.25,182.50 616.90,186.25 617.50,183.75 618.12,186.05 618.75,187.50 619.38,192.96 620.00,197.50 620.60,206.25 621.25,203.24 621.90,200.00 622.50,198.67 623.10,196.25 623.75,202.50 624.40,215.00 625.00,220.00 625.60,218.75 626.25,215.00 626.90,223.75 627.50,210.00 628.10,200.00 628.75,192.50 629.40,206.25 630.00,212.50 630.60,203.75 631.25,223.00 631.90,207.50 632.50,197.50 633.10,196.25 633.75,206.25 634.40,182.50 635.00,180.00 635.60,193.75 636.25,203.75 636.88,202.76 637.50,201.25 638.12,200.90 638.75,200.00 639.38,200.25 640.00,201.25 640.62,200.27 641.25,200.60 641.88,201.66 642.50,203.75 643.12,202.63 643.75,201.90 644.38,202.27 645.00,203.75 645.62,203.60 646.25,202.50 646.88,204.46 647.50,206.25 648.10,211.25 648.75,193.75 649.38,192.05 650.00,190.00 650.62,190.80 651.25,191.25 651.88,191.50 652.50,191.25 653.12,189.99 653.75,188.75 654.38,189.30 655.00,191.25 655.62,196.67 656.25,201.25 656.88,202.85 657.50,203.75 658.10,206.25 658.75,215.00 659.38,217.50 660.00,220.00 660.62,221.30 661.25,222.50 661.88,224.60 662.50,226.25 663.12,226.89 663.75,228.75 664.38,233.46 665.00,237.50 665.60,246.25 666.25,237.50 666.88,230.28 667.50,223.75 668.12,222.53 668.75,222.50 669.38,219.67 670.00,217.50 670.62,216.57 671.25,215.00 671.88,216.46 672.50,218.75 673.12,217.84 673.75,216.25 674.38,220.04 675.00,222.50 675.62,223.74 676.25,225.00 676.88,221.09 677.50,217.50 678.12,216.85 678.75,216.25 679.40,214.00 680.00,204.13 680.60,193.75 681.25,192.50 681.88,199.75 682.50,206.25 683.12,202.04 683.75,197.50 684.38,197.40 685.00,196.90 685.62,196.91 686.25,198.10 686.88,198.56 687.50,200.00 688.12,200.28 688.75,201.25 689.38,202.84 690.00,203.75 690.62,202.23 691.25,201.25 691.88,202.92 692.50,204.40 693.12,201.52 693.75,200.00 694.38,198.76 695.00,198.75 695.62,197.50 696.25,196.90 696.88,197.44 697.50,197.50 698.12,200.89 698.75,203.75 699.40,211.25 700.00,215.00 700.62,214.62 701.25,213.75 701.88,215.33 702.50,217.50 703.12,217.22 703.75,216.90 704.38,217.78 705.00,218.75 705.62,218.38 706.25,218.10 706.88,219.14 707.50,221.25 708.12,223.05 708.75,223.75 709.38,224.58 710.00,226.25 710.60,231.25 711.25,235.00 711.90,231.25 712.50,226.25 713.10,215.00 713.75,207.50 714.38,206.29 715.00,203.75 715.62,203.74 716.25,202.50 716.88,203.07 717.50,205.00 718.12,204.32 718.75,203.75 719.38,205.45 720.00,206.25 720.62,204.41 721.25,201.25 721.88,200.55 722.50,200.00 723.12,200.30 723.75,201.25 724.38,199.59 725.00,198.75 725.62,198.12 726.25,196.25 726.88,195.22 727.50,195.00 728.12,194.49 728.75,193.75 729.38,191.37 730.00,190.00 730.60,185.00 731.25,177.50 731.90,182.50 732.50,191.25 733.12,192.53 733.75,193.75 734.38,193.76 735.00,192.50 735.62,192.61 736.25,193.75 736.88,194.52 737.50,194.40 738.12,193.76 738.75,193.10 739.38,194.59 740.00,195.00 740.62,194.66 741.25,193.75 741.88,191.50 742.50,190.00 743.12,189.61 743.75,188.10 744.38,187.16 745.00,186.25 745.62,184.33 746.25,183.75 746.90,183.10 747.50,191.25 748.10,198.75 748.75,201.25 749.38,199.31 750.00,198.75 750.62,199.36 751.25,200.00 751.88,198.68 752.50,197.50 753.12,197.85 753.75,198.75 754.38,200.12 755.00,202.50 755.62,201.66 756.25,201.25 756.88,200.37 757.50,200.00 758.12,201.10 758.75,201.25 759.38,199.30 760.00,198.75 760.62,198.48 761.25,197.50 761.88,199.22 762.50,200.00 763.12,198.84 763.75,198.75 764.38,198.10 765.00,196.25 765.62,193.42 766.25,190.00 766.88,188.69 767.50,186.25 768.12,184.71 768.75,183.75 769.38,184.20 770.00,185.00 770.62,186.73 771.25,188.75 771.88,187.57 772.50,185.00 773.12,184.17 773.75,183.10 774.38,183.23 775.00,183.75 775.62,182.27 776.25,181.00 776.88,179.39 777.50,178.40" stroke="#2962ff" stroke-width="1.2"/>
</g>
<g clip-path="url(#cr)">
<rect x="0" y="309.38" width="783" height="55.50" fill="rgba(126,87,194,0.1)"/>
<line x1="0" x2="783" y1="309.38" y2="309.38" stroke="#9598a1" stroke-width="0.6" stroke-dasharray="2,2"/>
<line x1="0" x2="783" y1="364.88" y2="364.88" stroke="#9598a1" stroke-width="0.6" stroke-dasharray="2,2"/>
<line x1="0" x2="783" y1="337.12" y2="337.12" stroke="#9598a1" stroke-opacity="0.8" stroke-width="0.6" stroke-dasharray="2,2"/>
<defs><linearGradient id="gob" gradientUnits="userSpaceOnUse" x1="0" x2="0" y1="267.75" y2="309.38"><stop offset="0" stop-color="#26a69a" stop-opacity="0.75"/><stop offset="1" stop-color="#26a69a" stop-opacity="0"/></linearGradient>
<linearGradient id="gos" gradientUnits="userSpaceOnUse" x1="0" x2="0" y1="364.88" y2="406.50"><stop offset="0" stop-color="#ff5252" stop-opacity="0"/><stop offset="1" stop-color="#ff5252" stop-opacity="1"/></linearGradient>
<clipPath id="cob"><rect x="0" y="270" width="783" height="39.38"/></clipPath><clipPath id="cos"><rect x="0" y="364.88" width="783" height="35.12"/></clipPath></defs>
<polygon clip-path="url(#cob)" points="0.00,309.38 0.00,304.40 1.25,305.60 2.50,306.90 3.75,308.75 4.40,311.90 5.00,310.60 5.60,317.50 6.25,321.25 6.90,325.00 7.50,330.00 8.10,328.10 8.75,336.25 10.00,332.50 11.25,338.75 12.50,342.50 13.75,345.00 15.00,337.50 15.60,325.00 16.25,320.00 17.50,317.50 18.75,322.50 20.00,325.00 20.60,330.00 21.90,342.50 22.50,343.75 23.10,336.25 23.75,330.00 24.40,337.50 25.00,348.75 25.60,361.25 26.25,373.75 26.90,360.00 27.50,352.50 28.75,351.25 30.00,348.75 31.25,346.90 32.50,346.25 33.10,326.25 34.40,322.50 35.60,313.75 36.25,361.25 36.90,370.00 37.50,360.00 38.10,362.50 39.40,346.25 40.00,353.75 41.25,337.50 42.50,336.25 43.75,343.75 45.00,345.00 46.25,343.75 47.50,342.50 48.75,343.75 50.00,345.00 51.25,336.25 52.50,333.75 53.75,335.00 55.00,328.75 56.25,307.50 56.90,316.25 57.50,325.00 58.10,337.50 58.75,347.50 60.00,342.50 61.25,341.25 62.50,347.50 63.75,348.75 65.00,343.75 66.25,342.50 67.50,348.75 68.10,342.50 68.75,332.50 70.00,332.50 71.25,335.00 71.90,332.50 73.10,320.00 74.40,306.25 75.60,313.75 76.25,321.25 77.50,320.00 78.75,318.75 80.00,315.00 81.25,313.75 82.50,317.50 83.75,312.50 85.00,298.75 86.25,310.00 87.50,303.75 88.75,300.00 90.00,296.25 91.25,298.75 92.50,306.25 93.75,308.75 95.00,325.00 96.25,326.25 97.50,330.00 98.75,333.75 100.00,335.00 101.25,326.25 102.50,316.25 103.10,313.10 103.75,315.00 104.40,330.00 105.00,323.75 106.25,321.25 107.50,322.50 108.10,327.50 108.75,320.00 109.40,308.10 109.75,322.50 110.00,358.75 110.60,361.25 111.25,363.75 111.90,362.50 112.50,365.00 113.75,365.00 115.00,370.00 115.60,375.00 116.25,378.75 116.90,381.25 117.50,377.50 118.10,367.50 118.75,358.75 119.40,355.00 120.00,326.25 121.25,325.00 122.50,327.50 123.75,335.00 125.00,330.00 126.25,327.50 126.90,342.50 127.50,337.50 128.75,332.50 130.00,336.25 131.25,339.40 132.50,337.50 133.75,335.00 135.00,333.75 136.25,335.00 136.90,342.50 137.50,357.50 138.75,361.25 140.00,363.75 141.25,357.50 142.50,350.00 143.10,361.25 143.75,372.50 144.40,365.00 145.00,355.00 146.25,348.75 147.50,351.25 148.75,358.75 150.00,363.75 150.60,358.75 151.90,353.75 153.10,352.50 154.40,345.00 155.00,327.50 156.25,322.50 157.50,327.50 158.75,325.00 160.00,321.25 160.60,323.75 161.25,346.25 162.50,347.50 163.75,356.25 164.40,367.50 165.00,360.00 166.25,350.00 167.50,345.00 168.75,342.50 170.00,341.25 171.25,342.50 171.90,337.50 172.50,330.00 173.75,326.25 175.00,327.50 176.25,325.00 177.50,323.75 178.75,328.75 180.00,332.50 181.25,338.00 182.50,350.00 183.10,340.00 183.75,345.00 185.00,342.50 186.25,341.25 187.50,340.00 188.75,342.50 189.40,360.00 190.00,371.25 190.60,365.00 191.25,362.50 192.50,346.25 193.10,337.50 194.40,332.50 195.60,318.75 196.25,316.25 196.90,322.50 197.50,326.25 198.75,325.00 200.00,326.25 201.25,319.40 202.50,322.50 203.75,325.00 205.00,326.25 206.25,322.50 206.90,317.50 207.50,318.75 208.10,322.50 208.75,321.25 209.40,325.00 210.00,330.00 210.60,337.50 211.25,338.10 211.90,336.25 212.50,330.00 213.10,315.00 213.75,321.25 214.40,330.00 215.00,332.50 215.60,328.75 216.25,331.25 217.50,333.75 218.75,337.50 219.40,347.50 220.00,342.50 221.25,341.25 222.50,342.50 223.75,344.40 225.00,350.00 226.25,353.75 226.90,347.50 227.50,337.50 228.10,332.50 228.75,331.25 229.40,337.50 230.00,356.25 230.60,373.75 231.25,362.50 231.90,347.50 232.50,343.75 233.10,337.50 233.75,345.00 235.00,347.50 236.25,350.00 237.50,352.50 238.75,348.75 240.00,350.00 241.25,355.00 242.50,342.50 243.10,332.50 243.75,331.25 245.00,337.50 246.25,330.00 246.90,325.00 247.50,317.50 248.10,340.00 249.40,355.00 250.60,360.00 251.90,365.00 253.10,356.25 253.75,342.50 254.40,336.25 255.00,337.50 256.25,341.25 257.50,337.50 258.10,332.50 259.40,327.50 260.60,331.25 261.90,334.00 262.50,336.25 263.75,343.75 264.40,330.00 265.00,317.50 266.25,312.50 267.50,316.25 268.75,320.00 270.00,312.50 270.60,311.25 271.25,317.50 271.90,321.25 272.50,322.50 273.75,327.50 275.00,326.25 276.25,317.50 277.50,313.75 278.75,313.75 280.00,317.50 280.60,316.25 281.25,310.00 281.90,307.50 282.50,296.25 283.10,310.00 283.75,311.25 285.00,310.00 286.25,315.00 287.50,313.75 288.10,302.50 288.75,308.75 290.00,311.25 291.25,313.75 292.50,317.50 293.10,316.25 293.75,295.00 295.00,291.25 295.60,290.00 296.25,292.50 297.50,295.00 298.75,306.25 300.00,310.00 300.60,311.25 301.25,320.00 301.90,315.00 302.50,310.00 303.10,311.25 303.75,317.50 304.40,323.75 305.60,322.50 306.90,316.25 308.10,315.00 309.40,317.50 310.60,321.25 311.25,333.75 311.90,330.00 312.50,326.25 313.10,323.75 313.75,325.00 314.40,315.00 315.60,307.50 316.90,303.75 317.50,301.25 318.10,317.50 318.75,322.50 319.40,320.00 320.60,311.25 321.25,291.25 321.90,287.50 322.50,285.00 323.10,283.10 323.75,287.50 324.40,292.50 325.00,287.50 326.25,292.50 327.50,298.75 328.10,293.75 329.40,290.00 330.60,289.40 331.90,291.25 332.50,301.25 333.75,302.50 335.00,292.50 336.25,312.50 337.50,328.00 338.75,331.25 340.00,332.50 341.25,327.50 342.50,335.00 343.10,345.00 343.75,337.50 345.00,330.00 346.25,333.75 347.50,343.75 348.75,340.00 349.40,332.50 350.00,341.25 350.60,356.25 351.25,346.25 352.50,355.00 353.75,351.25 355.00,347.50 356.25,342.50 357.50,347.50 358.75,350.00 360.00,337.50 361.25,335.00 362.50,327.50 363.75,320.00 365.00,317.50 366.25,320.00 367.50,318.75 368.75,322.50 369.40,337.50 370.00,331.25 371.25,345.00 371.90,350.00 372.50,356.25 373.75,350.00 375.00,342.50 376.25,350.00 377.50,352.50 378.75,350.00 380.00,350.00 381.25,325.00 382.50,322.50 383.75,320.00 385.00,317.50 386.25,307.50 387.50,310.00 388.75,305.00 390.00,296.25 390.60,298.75 391.25,310.00 391.90,327.50 392.50,332.50 393.10,337.50 394.40,336.25 395.60,337.50 396.90,343.75 398.10,345.00 398.75,370.00 400.00,367.50 401.25,358.75 402.50,366.25 403.75,345.00 404.40,356.25 405.60,357.50 406.90,361.25 408.10,365.00 409.40,363.75 410.60,366.25 411.90,367.50 413.10,371.25 414.40,376.25 415.00,372.50 415.60,350.00 416.90,353.75 417.50,358.75 418.75,347.50 420.00,335.00 420.60,330.00 421.25,323.75 422.50,315.00 423.10,317.50 423.75,323.75 425.00,325.00 426.25,323.75 426.90,328.75 427.50,341.25 428.10,358.75 428.75,361.25 430.00,347.50 431.25,348.75 432.50,343.75 433.75,337.50 435.60,336.90 436.90,338.75 438.10,350.00 439.40,367.50 440.60,375.00 441.25,380.00 442.50,365.00 443.75,355.00 445.00,357.50 446.25,355.00 447.50,356.25 448.75,353.75 450.00,350.00 451.25,356.25 452.50,358.75 453.75,361.25 455.00,366.25 456.25,372.50 457.50,380.00 458.10,372.50 459.40,346.25 461.25,332.00 461.90,328.75 462.50,331.25 463.10,318.75 464.40,317.50 465.60,316.25 466.90,312.50 467.50,301.25 468.10,299.40 469.40,303.75 470.60,306.90 471.90,306.25 473.10,302.50 473.75,298.75 474.40,296.25 475.00,311.25 475.60,322.50 476.25,317.50 477.50,308.75 478.75,303.75 480.00,300.00 481.25,298.75 482.50,301.25 483.10,298.75 483.75,300.00 484.40,298.75 485.00,317.50 485.60,341.25 486.90,343.75 488.10,346.25 489.40,348.75 490.60,350.00 491.90,365.00 493.10,370.00 493.75,356.25 495.00,340.00 496.25,343.75 497.50,341.25 498.75,343.75 500.00,342.50 501.25,334.00 502.50,320.00 503.75,322.50 504.40,331.25 505.00,325.00 505.60,323.75 506.25,327.50 507.50,332.50 508.10,343.75 508.75,356.25 510.00,357.50 511.25,352.50 512.50,353.75 513.75,350.00 514.40,335.00 515.60,337.50 516.90,340.00 518.10,348.75 519.40,353.75 520.60,343.75 521.90,341.25 523.10,345.00 524.40,350.00 525.00,364.00 525.60,374.00 526.25,381.00 527.00,385.00 527.60,388.30 528.50,371.20 529.40,376.60 530.50,368.00 531.25,363.75 532.50,352.50 533.75,353.75 535.00,347.50 536.25,347.50 537.50,358.75 538.75,362.50 540.00,370.00 540.60,375.00 541.25,365.00 542.50,335.00 543.10,327.50 544.40,316.25 545.60,312.50 546.90,318.75 548.10,312.50 549.40,317.50 550.60,320.00 551.90,316.25 553.10,313.75 554.40,307.50 555.00,320.00 556.25,335.00 557.50,340.00 558.75,350.00 559.40,358.75 560.00,347.50 561.25,343.75 562.50,340.00 563.75,346.25 565.00,350.00 565.60,358.75 566.90,350.00 568.10,342.50 569.40,345.00 570.60,350.00 571.90,352.50 573.10,353.75 574.40,351.25 575.60,355.00 576.90,360.00 577.50,377.50 578.10,362.50 579.40,350.00 580.60,343.75 581.25,337.50 582.50,338.75 583.75,353.75 585.00,355.00 586.25,353.75 587.50,351.25 588.75,341.25 590.00,332.50 591.25,330.00 592.50,322.50 593.75,320.00 595.00,312.50 595.60,302.50 596.25,310.00 596.90,321.25 597.50,329.00 598.75,333.75 600.00,336.25 601.25,316.25 602.50,298.75 603.50,293.10 604.40,300.00 605.00,298.75 606.25,299.40 607.50,308.75 608.75,312.50 610.00,313.75 611.25,312.50 612.50,315.00 613.10,337.50 613.75,356.25 614.40,366.25 615.00,372.50 616.25,371.25 617.50,367.50 618.75,365.00 620.00,372.50 620.60,375.00 621.25,370.00 622.50,362.50 623.10,358.75 623.75,365.00 625.00,375.00 625.60,362.50 626.25,361.25 627.50,357.50 628.10,347.50 629.40,335.00 630.00,347.50 631.25,357.50 631.90,343.75 632.50,337.50 633.75,335.00 634.40,326.25 635.00,332.50 636.25,340.00 637.50,342.50 638.75,338.75 640.00,337.50 641.25,340.00 642.50,342.50 643.75,337.50 645.00,337.50 646.25,340.00 647.50,350.00 648.10,343.75 648.75,322.50 650.00,320.00 651.25,323.75 652.50,327.50 653.75,322.50 655.00,327.50 655.60,340.00 656.25,350.00 657.50,346.25 658.75,360.00 660.00,363.75 661.25,357.50 662.50,360.00 663.75,363.75 665.00,368.75 665.60,360.00 666.90,346.25 668.10,340.00 669.40,336.25 670.60,331.25 671.25,328.10 671.90,328.75 673.10,331.25 674.40,333.75 675.60,338.75 676.25,347.50 677.50,337.50 678.75,333.75 679.40,333.75 680.60,317.50 681.25,307.50 681.90,310.00 682.50,321.25 683.10,325.00 683.75,321.25 685.00,320.00 686.25,322.50 687.50,326.25 688.75,329.00 690.00,331.00 691.25,333.00 692.50,333.00 693.75,328.75 695.00,325.00 696.25,321.25 696.90,320.00 697.50,322.50 698.10,337.50 698.75,348.75 699.40,363.75 700.00,355.00 700.60,360.00 701.25,357.50 702.50,360.00 703.75,358.75 704.40,362.50 705.60,357.50 706.90,363.75 707.50,371.25 708.10,361.25 709.40,360.00 710.60,367.50 711.25,376.25 711.90,363.75 712.50,352.50 713.10,326.25 713.75,317.50 715.00,315.00 716.25,316.25 717.50,318.75 718.75,325.00 720.00,318.75 720.60,317.50 721.25,320.00 722.50,322.50 723.75,323.75 725.00,317.50 726.25,313.75 726.90,310.00 728.10,309.40 729.40,307.50 730.00,302.50 730.60,300.00 731.25,296.25 731.90,313.75 732.50,336.00 733.10,332.50 733.75,332.50 735.00,335.00 736.25,336.25 737.50,335.00 738.75,336.25 740.00,335.00 741.25,340.00 742.50,331.00 743.75,326.25 745.00,321.25 746.25,315.00 746.90,313.75 747.50,330.00 748.10,355.00 749.40,348.75 750.60,345.00 751.90,346.25 753.10,343.75 754.40,353.75 755.60,350.00 756.90,348.75 758.10,347.50 759.40,346.25 760.60,332.50 761.90,340.00 763.10,341.25 764.40,338.75 765.00,327.50 765.60,316.25 766.25,326.25 766.90,310.00 767.50,302.50 768.10,301.25 768.75,310.00 770.00,315.00 770.60,322.50 771.25,330.00 771.90,331.25 772.50,322.50 773.75,323.75 775.00,325.00 776.25,322.50 776.90,316.25 777.50,312.30 777.50,309.38" fill="url(#gob)"/>
<polygon clip-path="url(#cos)" points="0.00,364.88 0.00,304.40 1.25,305.60 2.50,306.90 3.75,308.75 4.40,311.90 5.00,310.60 5.60,317.50 6.25,321.25 6.90,325.00 7.50,330.00 8.10,328.10 8.75,336.25 10.00,332.50 11.25,338.75 12.50,342.50 13.75,345.00 15.00,337.50 15.60,325.00 16.25,320.00 17.50,317.50 18.75,322.50 20.00,325.00 20.60,330.00 21.90,342.50 22.50,343.75 23.10,336.25 23.75,330.00 24.40,337.50 25.00,348.75 25.60,361.25 26.25,373.75 26.90,360.00 27.50,352.50 28.75,351.25 30.00,348.75 31.25,346.90 32.50,346.25 33.10,326.25 34.40,322.50 35.60,313.75 36.25,361.25 36.90,370.00 37.50,360.00 38.10,362.50 39.40,346.25 40.00,353.75 41.25,337.50 42.50,336.25 43.75,343.75 45.00,345.00 46.25,343.75 47.50,342.50 48.75,343.75 50.00,345.00 51.25,336.25 52.50,333.75 53.75,335.00 55.00,328.75 56.25,307.50 56.90,316.25 57.50,325.00 58.10,337.50 58.75,347.50 60.00,342.50 61.25,341.25 62.50,347.50 63.75,348.75 65.00,343.75 66.25,342.50 67.50,348.75 68.10,342.50 68.75,332.50 70.00,332.50 71.25,335.00 71.90,332.50 73.10,320.00 74.40,306.25 75.60,313.75 76.25,321.25 77.50,320.00 78.75,318.75 80.00,315.00 81.25,313.75 82.50,317.50 83.75,312.50 85.00,298.75 86.25,310.00 87.50,303.75 88.75,300.00 90.00,296.25 91.25,298.75 92.50,306.25 93.75,308.75 95.00,325.00 96.25,326.25 97.50,330.00 98.75,333.75 100.00,335.00 101.25,326.25 102.50,316.25 103.10,313.10 103.75,315.00 104.40,330.00 105.00,323.75 106.25,321.25 107.50,322.50 108.10,327.50 108.75,320.00 109.40,308.10 109.75,322.50 110.00,358.75 110.60,361.25 111.25,363.75 111.90,362.50 112.50,365.00 113.75,365.00 115.00,370.00 115.60,375.00 116.25,378.75 116.90,381.25 117.50,377.50 118.10,367.50 118.75,358.75 119.40,355.00 120.00,326.25 121.25,325.00 122.50,327.50 123.75,335.00 125.00,330.00 126.25,327.50 126.90,342.50 127.50,337.50 128.75,332.50 130.00,336.25 131.25,339.40 132.50,337.50 133.75,335.00 135.00,333.75 136.25,335.00 136.90,342.50 137.50,357.50 138.75,361.25 140.00,363.75 141.25,357.50 142.50,350.00 143.10,361.25 143.75,372.50 144.40,365.00 145.00,355.00 146.25,348.75 147.50,351.25 148.75,358.75 150.00,363.75 150.60,358.75 151.90,353.75 153.10,352.50 154.40,345.00 155.00,327.50 156.25,322.50 157.50,327.50 158.75,325.00 160.00,321.25 160.60,323.75 161.25,346.25 162.50,347.50 163.75,356.25 164.40,367.50 165.00,360.00 166.25,350.00 167.50,345.00 168.75,342.50 170.00,341.25 171.25,342.50 171.90,337.50 172.50,330.00 173.75,326.25 175.00,327.50 176.25,325.00 177.50,323.75 178.75,328.75 180.00,332.50 181.25,338.00 182.50,350.00 183.10,340.00 183.75,345.00 185.00,342.50 186.25,341.25 187.50,340.00 188.75,342.50 189.40,360.00 190.00,371.25 190.60,365.00 191.25,362.50 192.50,346.25 193.10,337.50 194.40,332.50 195.60,318.75 196.25,316.25 196.90,322.50 197.50,326.25 198.75,325.00 200.00,326.25 201.25,319.40 202.50,322.50 203.75,325.00 205.00,326.25 206.25,322.50 206.90,317.50 207.50,318.75 208.10,322.50 208.75,321.25 209.40,325.00 210.00,330.00 210.60,337.50 211.25,338.10 211.90,336.25 212.50,330.00 213.10,315.00 213.75,321.25 214.40,330.00 215.00,332.50 215.60,328.75 216.25,331.25 217.50,333.75 218.75,337.50 219.40,347.50 220.00,342.50 221.25,341.25 222.50,342.50 223.75,344.40 225.00,350.00 226.25,353.75 226.90,347.50 227.50,337.50 228.10,332.50 228.75,331.25 229.40,337.50 230.00,356.25 230.60,373.75 231.25,362.50 231.90,347.50 232.50,343.75 233.10,337.50 233.75,345.00 235.00,347.50 236.25,350.00 237.50,352.50 238.75,348.75 240.00,350.00 241.25,355.00 242.50,342.50 243.10,332.50 243.75,331.25 245.00,337.50 246.25,330.00 246.90,325.00 247.50,317.50 248.10,340.00 249.40,355.00 250.60,360.00 251.90,365.00 253.10,356.25 253.75,342.50 254.40,336.25 255.00,337.50 256.25,341.25 257.50,337.50 258.10,332.50 259.40,327.50 260.60,331.25 261.90,334.00 262.50,336.25 263.75,343.75 264.40,330.00 265.00,317.50 266.25,312.50 267.50,316.25 268.75,320.00 270.00,312.50 270.60,311.25 271.25,317.50 271.90,321.25 272.50,322.50 273.75,327.50 275.00,326.25 276.25,317.50 277.50,313.75 278.75,313.75 280.00,317.50 280.60,316.25 281.25,310.00 281.90,307.50 282.50,296.25 283.10,310.00 283.75,311.25 285.00,310.00 286.25,315.00 287.50,313.75 288.10,302.50 288.75,308.75 290.00,311.25 291.25,313.75 292.50,317.50 293.10,316.25 293.75,295.00 295.00,291.25 295.60,290.00 296.25,292.50 297.50,295.00 298.75,306.25 300.00,310.00 300.60,311.25 301.25,320.00 301.90,315.00 302.50,310.00 303.10,311.25 303.75,317.50 304.40,323.75 305.60,322.50 306.90,316.25 308.10,315.00 309.40,317.50 310.60,321.25 311.25,333.75 311.90,330.00 312.50,326.25 313.10,323.75 313.75,325.00 314.40,315.00 315.60,307.50 316.90,303.75 317.50,301.25 318.10,317.50 318.75,322.50 319.40,320.00 320.60,311.25 321.25,291.25 321.90,287.50 322.50,285.00 323.10,283.10 323.75,287.50 324.40,292.50 325.00,287.50 326.25,292.50 327.50,298.75 328.10,293.75 329.40,290.00 330.60,289.40 331.90,291.25 332.50,301.25 333.75,302.50 335.00,292.50 336.25,312.50 337.50,328.00 338.75,331.25 340.00,332.50 341.25,327.50 342.50,335.00 343.10,345.00 343.75,337.50 345.00,330.00 346.25,333.75 347.50,343.75 348.75,340.00 349.40,332.50 350.00,341.25 350.60,356.25 351.25,346.25 352.50,355.00 353.75,351.25 355.00,347.50 356.25,342.50 357.50,347.50 358.75,350.00 360.00,337.50 361.25,335.00 362.50,327.50 363.75,320.00 365.00,317.50 366.25,320.00 367.50,318.75 368.75,322.50 369.40,337.50 370.00,331.25 371.25,345.00 371.90,350.00 372.50,356.25 373.75,350.00 375.00,342.50 376.25,350.00 377.50,352.50 378.75,350.00 380.00,350.00 381.25,325.00 382.50,322.50 383.75,320.00 385.00,317.50 386.25,307.50 387.50,310.00 388.75,305.00 390.00,296.25 390.60,298.75 391.25,310.00 391.90,327.50 392.50,332.50 393.10,337.50 394.40,336.25 395.60,337.50 396.90,343.75 398.10,345.00 398.75,370.00 400.00,367.50 401.25,358.75 402.50,366.25 403.75,345.00 404.40,356.25 405.60,357.50 406.90,361.25 408.10,365.00 409.40,363.75 410.60,366.25 411.90,367.50 413.10,371.25 414.40,376.25 415.00,372.50 415.60,350.00 416.90,353.75 417.50,358.75 418.75,347.50 420.00,335.00 420.60,330.00 421.25,323.75 422.50,315.00 423.10,317.50 423.75,323.75 425.00,325.00 426.25,323.75 426.90,328.75 427.50,341.25 428.10,358.75 428.75,361.25 430.00,347.50 431.25,348.75 432.50,343.75 433.75,337.50 435.60,336.90 436.90,338.75 438.10,350.00 439.40,367.50 440.60,375.00 441.25,380.00 442.50,365.00 443.75,355.00 445.00,357.50 446.25,355.00 447.50,356.25 448.75,353.75 450.00,350.00 451.25,356.25 452.50,358.75 453.75,361.25 455.00,366.25 456.25,372.50 457.50,380.00 458.10,372.50 459.40,346.25 461.25,332.00 461.90,328.75 462.50,331.25 463.10,318.75 464.40,317.50 465.60,316.25 466.90,312.50 467.50,301.25 468.10,299.40 469.40,303.75 470.60,306.90 471.90,306.25 473.10,302.50 473.75,298.75 474.40,296.25 475.00,311.25 475.60,322.50 476.25,317.50 477.50,308.75 478.75,303.75 480.00,300.00 481.25,298.75 482.50,301.25 483.10,298.75 483.75,300.00 484.40,298.75 485.00,317.50 485.60,341.25 486.90,343.75 488.10,346.25 489.40,348.75 490.60,350.00 491.90,365.00 493.10,370.00 493.75,356.25 495.00,340.00 496.25,343.75 497.50,341.25 498.75,343.75 500.00,342.50 501.25,334.00 502.50,320.00 503.75,322.50 504.40,331.25 505.00,325.00 505.60,323.75 506.25,327.50 507.50,332.50 508.10,343.75 508.75,356.25 510.00,357.50 511.25,352.50 512.50,353.75 513.75,350.00 514.40,335.00 515.60,337.50 516.90,340.00 518.10,348.75 519.40,353.75 520.60,343.75 521.90,341.25 523.10,345.00 524.40,350.00 525.00,364.00 525.60,374.00 526.25,381.00 527.00,385.00 527.60,388.30 528.50,371.20 529.40,376.60 530.50,368.00 531.25,363.75 532.50,352.50 533.75,353.75 535.00,347.50 536.25,347.50 537.50,358.75 538.75,362.50 540.00,370.00 540.60,375.00 541.25,365.00 542.50,335.00 543.10,327.50 544.40,316.25 545.60,312.50 546.90,318.75 548.10,312.50 549.40,317.50 550.60,320.00 551.90,316.25 553.10,313.75 554.40,307.50 555.00,320.00 556.25,335.00 557.50,340.00 558.75,350.00 559.40,358.75 560.00,347.50 561.25,343.75 562.50,340.00 563.75,346.25 565.00,350.00 565.60,358.75 566.90,350.00 568.10,342.50 569.40,345.00 570.60,350.00 571.90,352.50 573.10,353.75 574.40,351.25 575.60,355.00 576.90,360.00 577.50,377.50 578.10,362.50 579.40,350.00 580.60,343.75 581.25,337.50 582.50,338.75 583.75,353.75 585.00,355.00 586.25,353.75 587.50,351.25 588.75,341.25 590.00,332.50 591.25,330.00 592.50,322.50 593.75,320.00 595.00,312.50 595.60,302.50 596.25,310.00 596.90,321.25 597.50,329.00 598.75,333.75 600.00,336.25 601.25,316.25 602.50,298.75 603.50,293.10 604.40,300.00 605.00,298.75 606.25,299.40 607.50,308.75 608.75,312.50 610.00,313.75 611.25,312.50 612.50,315.00 613.10,337.50 613.75,356.25 614.40,366.25 615.00,372.50 616.25,371.25 617.50,367.50 618.75,365.00 620.00,372.50 620.60,375.00 621.25,370.00 622.50,362.50 623.10,358.75 623.75,365.00 625.00,375.00 625.60,362.50 626.25,361.25 627.50,357.50 628.10,347.50 629.40,335.00 630.00,347.50 631.25,357.50 631.90,343.75 632.50,337.50 633.75,335.00 634.40,326.25 635.00,332.50 636.25,340.00 637.50,342.50 638.75,338.75 640.00,337.50 641.25,340.00 642.50,342.50 643.75,337.50 645.00,337.50 646.25,340.00 647.50,350.00 648.10,343.75 648.75,322.50 650.00,320.00 651.25,323.75 652.50,327.50 653.75,322.50 655.00,327.50 655.60,340.00 656.25,350.00 657.50,346.25 658.75,360.00 660.00,363.75 661.25,357.50 662.50,360.00 663.75,363.75 665.00,368.75 665.60,360.00 666.90,346.25 668.10,340.00 669.40,336.25 670.60,331.25 671.25,328.10 671.90,328.75 673.10,331.25 674.40,333.75 675.60,338.75 676.25,347.50 677.50,337.50 678.75,333.75 679.40,333.75 680.60,317.50 681.25,307.50 681.90,310.00 682.50,321.25 683.10,325.00 683.75,321.25 685.00,320.00 686.25,322.50 687.50,326.25 688.75,329.00 690.00,331.00 691.25,333.00 692.50,333.00 693.75,328.75 695.00,325.00 696.25,321.25 696.90,320.00 697.50,322.50 698.10,337.50 698.75,348.75 699.40,363.75 700.00,355.00 700.60,360.00 701.25,357.50 702.50,360.00 703.75,358.75 704.40,362.50 705.60,357.50 706.90,363.75 707.50,371.25 708.10,361.25 709.40,360.00 710.60,367.50 711.25,376.25 711.90,363.75 712.50,352.50 713.10,326.25 713.75,317.50 715.00,315.00 716.25,316.25 717.50,318.75 718.75,325.00 720.00,318.75 720.60,317.50 721.25,320.00 722.50,322.50 723.75,323.75 725.00,317.50 726.25,313.75 726.90,310.00 728.10,309.40 729.40,307.50 730.00,302.50 730.60,300.00 731.25,296.25 731.90,313.75 732.50,336.00 733.10,332.50 733.75,332.50 735.00,335.00 736.25,336.25 737.50,335.00 738.75,336.25 740.00,335.00 741.25,340.00 742.50,331.00 743.75,326.25 745.00,321.25 746.25,315.00 746.90,313.75 747.50,330.00 748.10,355.00 749.40,348.75 750.60,345.00 751.90,346.25 753.10,343.75 754.40,353.75 755.60,350.00 756.90,348.75 758.10,347.50 759.40,346.25 760.60,332.50 761.90,340.00 763.10,341.25 764.40,338.75 765.00,327.50 765.60,316.25 766.25,326.25 766.90,310.00 767.50,302.50 768.10,301.25 768.75,310.00 770.00,315.00 770.60,322.50 771.25,330.00 771.90,331.25 772.50,322.50 773.75,323.75 775.00,325.00 776.25,322.50 776.90,316.25 777.50,312.30 777.50,364.88" fill="url(#gos)"/>
<polyline points="0.00,304.40 1.25,305.60 2.50,306.90 3.75,308.75 4.40,311.90 5.00,310.60 5.60,317.50 6.25,321.25 6.90,325.00 7.50,330.00 8.10,328.10 8.75,336.25 10.00,332.50 11.25,338.75 12.50,342.50 13.75,345.00 15.00,337.50 15.60,325.00 16.25,320.00 17.50,317.50 18.75,322.50 20.00,325.00 20.60,330.00 21.90,342.50 22.50,343.75 23.10,336.25 23.75,330.00 24.40,337.50 25.00,348.75 25.60,361.25 26.25,373.75 26.90,360.00 27.50,352.50 28.75,351.25 30.00,348.75 31.25,346.90 32.50,346.25 33.10,326.25 34.40,322.50 35.60,313.75 36.25,361.25 36.90,370.00 37.50,360.00 38.10,362.50 39.40,346.25 40.00,353.75 41.25,337.50 42.50,336.25 43.75,343.75 45.00,345.00 46.25,343.75 47.50,342.50 48.75,343.75 50.00,345.00 51.25,336.25 52.50,333.75 53.75,335.00 55.00,328.75 56.25,307.50 56.90,316.25 57.50,325.00 58.10,337.50 58.75,347.50 60.00,342.50 61.25,341.25 62.50,347.50 63.75,348.75 65.00,343.75 66.25,342.50 67.50,348.75 68.10,342.50 68.75,332.50 70.00,332.50 71.25,335.00 71.90,332.50 73.10,320.00 74.40,306.25 75.60,313.75 76.25,321.25 77.50,320.00 78.75,318.75 80.00,315.00 81.25,313.75 82.50,317.50 83.75,312.50 85.00,298.75 86.25,310.00 87.50,303.75 88.75,300.00 90.00,296.25 91.25,298.75 92.50,306.25 93.75,308.75 95.00,325.00 96.25,326.25 97.50,330.00 98.75,333.75 100.00,335.00 101.25,326.25 102.50,316.25 103.10,313.10 103.75,315.00 104.40,330.00 105.00,323.75 106.25,321.25 107.50,322.50 108.10,327.50 108.75,320.00 109.40,308.10 109.75,322.50 110.00,358.75 110.60,361.25 111.25,363.75 111.90,362.50 112.50,365.00 113.75,365.00 115.00,370.00 115.60,375.00 116.25,378.75 116.90,381.25 117.50,377.50 118.10,367.50 118.75,358.75 119.40,355.00 120.00,326.25 121.25,325.00 122.50,327.50 123.75,335.00 125.00,330.00 126.25,327.50 126.90,342.50 127.50,337.50 128.75,332.50 130.00,336.25 131.25,339.40 132.50,337.50 133.75,335.00 135.00,333.75 136.25,335.00 136.90,342.50 137.50,357.50 138.75,361.25 140.00,363.75 141.25,357.50 142.50,350.00 143.10,361.25 143.75,372.50 144.40,365.00 145.00,355.00 146.25,348.75 147.50,351.25 148.75,358.75 150.00,363.75 150.60,358.75 151.90,353.75 153.10,352.50 154.40,345.00 155.00,327.50 156.25,322.50 157.50,327.50 158.75,325.00 160.00,321.25 160.60,323.75 161.25,346.25 162.50,347.50 163.75,356.25 164.40,367.50 165.00,360.00 166.25,350.00 167.50,345.00 168.75,342.50 170.00,341.25 171.25,342.50 171.90,337.50 172.50,330.00 173.75,326.25 175.00,327.50 176.25,325.00 177.50,323.75 178.75,328.75 180.00,332.50 181.25,338.00 182.50,350.00 183.10,340.00 183.75,345.00 185.00,342.50 186.25,341.25 187.50,340.00 188.75,342.50 189.40,360.00 190.00,371.25 190.60,365.00 191.25,362.50 192.50,346.25 193.10,337.50 194.40,332.50 195.60,318.75 196.25,316.25 196.90,322.50 197.50,326.25 198.75,325.00 200.00,326.25 201.25,319.40 202.50,322.50 203.75,325.00 205.00,326.25 206.25,322.50 206.90,317.50 207.50,318.75 208.10,322.50 208.75,321.25 209.40,325.00 210.00,330.00 210.60,337.50 211.25,338.10 211.90,336.25 212.50,330.00 213.10,315.00 213.75,321.25 214.40,330.00 215.00,332.50 215.60,328.75 216.25,331.25 217.50,333.75 218.75,337.50 219.40,347.50 220.00,342.50 221.25,341.25 222.50,342.50 223.75,344.40 225.00,350.00 226.25,353.75 226.90,347.50 227.50,337.50 228.10,332.50 228.75,331.25 229.40,337.50 230.00,356.25 230.60,373.75 231.25,362.50 231.90,347.50 232.50,343.75 233.10,337.50 233.75,345.00 235.00,347.50 236.25,350.00 237.50,352.50 238.75,348.75 240.00,350.00 241.25,355.00 242.50,342.50 243.10,332.50 243.75,331.25 245.00,337.50 246.25,330.00 246.90,325.00 247.50,317.50 248.10,340.00 249.40,355.00 250.60,360.00 251.90,365.00 253.10,356.25 253.75,342.50 254.40,336.25 255.00,337.50 256.25,341.25 257.50,337.50 258.10,332.50 259.40,327.50 260.60,331.25 261.90,334.00 262.50,336.25 263.75,343.75 264.40,330.00 265.00,317.50 266.25,312.50 267.50,316.25 268.75,320.00 270.00,312.50 270.60,311.25 271.25,317.50 271.90,321.25 272.50,322.50 273.75,327.50 275.00,326.25 276.25,317.50 277.50,313.75 278.75,313.75 280.00,317.50 280.60,316.25 281.25,310.00 281.90,307.50 282.50,296.25 283.10,310.00 283.75,311.25 285.00,310.00 286.25,315.00 287.50,313.75 288.10,302.50 288.75,308.75 290.00,311.25 291.25,313.75 292.50,317.50 293.10,316.25 293.75,295.00 295.00,291.25 295.60,290.00 296.25,292.50 297.50,295.00 298.75,306.25 300.00,310.00 300.60,311.25 301.25,320.00 301.90,315.00 302.50,310.00 303.10,311.25 303.75,317.50 304.40,323.75 305.60,322.50 306.90,316.25 308.10,315.00 309.40,317.50 310.60,321.25 311.25,333.75 311.90,330.00 312.50,326.25 313.10,323.75 313.75,325.00 314.40,315.00 315.60,307.50 316.90,303.75 317.50,301.25 318.10,317.50 318.75,322.50 319.40,320.00 320.60,311.25 321.25,291.25 321.90,287.50 322.50,285.00 323.10,283.10 323.75,287.50 324.40,292.50 325.00,287.50 326.25,292.50 327.50,298.75 328.10,293.75 329.40,290.00 330.60,289.40 331.90,291.25 332.50,301.25 333.75,302.50 335.00,292.50 336.25,312.50 337.50,328.00 338.75,331.25 340.00,332.50 341.25,327.50 342.50,335.00 343.10,345.00 343.75,337.50 345.00,330.00 346.25,333.75 347.50,343.75 348.75,340.00 349.40,332.50 350.00,341.25 350.60,356.25 351.25,346.25 352.50,355.00 353.75,351.25 355.00,347.50 356.25,342.50 357.50,347.50 358.75,350.00 360.00,337.50 361.25,335.00 362.50,327.50 363.75,320.00 365.00,317.50 366.25,320.00 367.50,318.75 368.75,322.50 369.40,337.50 370.00,331.25 371.25,345.00 371.90,350.00 372.50,356.25 373.75,350.00 375.00,342.50 376.25,350.00 377.50,352.50 378.75,350.00 380.00,350.00 381.25,325.00 382.50,322.50 383.75,320.00 385.00,317.50 386.25,307.50 387.50,310.00 388.75,305.00 390.00,296.25 390.60,298.75 391.25,310.00 391.90,327.50 392.50,332.50 393.10,337.50 394.40,336.25 395.60,337.50 396.90,343.75 398.10,345.00 398.75,370.00 400.00,367.50 401.25,358.75 402.50,366.25 403.75,345.00 404.40,356.25 405.60,357.50 406.90,361.25 408.10,365.00 409.40,363.75 410.60,366.25 411.90,367.50 413.10,371.25 414.40,376.25 415.00,372.50 415.60,350.00 416.90,353.75 417.50,358.75 418.75,347.50 420.00,335.00 420.60,330.00 421.25,323.75 422.50,315.00 423.10,317.50 423.75,323.75 425.00,325.00 426.25,323.75 426.90,328.75 427.50,341.25 428.10,358.75 428.75,361.25 430.00,347.50 431.25,348.75 432.50,343.75 433.75,337.50 435.60,336.90 436.90,338.75 438.10,350.00 439.40,367.50 440.60,375.00 441.25,380.00 442.50,365.00 443.75,355.00 445.00,357.50 446.25,355.00 447.50,356.25 448.75,353.75 450.00,350.00 451.25,356.25 452.50,358.75 453.75,361.25 455.00,366.25 456.25,372.50 457.50,380.00 458.10,372.50 459.40,346.25 461.25,332.00 461.90,328.75 462.50,331.25 463.10,318.75 464.40,317.50 465.60,316.25 466.90,312.50 467.50,301.25 468.10,299.40 469.40,303.75 470.60,306.90 471.90,306.25 473.10,302.50 473.75,298.75 474.40,296.25 475.00,311.25 475.60,322.50 476.25,317.50 477.50,308.75 478.75,303.75 480.00,300.00 481.25,298.75 482.50,301.25 483.10,298.75 483.75,300.00 484.40,298.75 485.00,317.50 485.60,341.25 486.90,343.75 488.10,346.25 489.40,348.75 490.60,350.00 491.90,365.00 493.10,370.00 493.75,356.25 495.00,340.00 496.25,343.75 497.50,341.25 498.75,343.75 500.00,342.50 501.25,334.00 502.50,320.00 503.75,322.50 504.40,331.25 505.00,325.00 505.60,323.75 506.25,327.50 507.50,332.50 508.10,343.75 508.75,356.25 510.00,357.50 511.25,352.50 512.50,353.75 513.75,350.00 514.40,335.00 515.60,337.50 516.90,340.00 518.10,348.75 519.40,353.75 520.60,343.75 521.90,341.25 523.10,345.00 524.40,350.00 525.00,364.00 525.60,374.00 526.25,381.00 527.00,385.00 527.60,388.30 528.50,371.20 529.40,376.60 530.50,368.00 531.25,363.75 532.50,352.50 533.75,353.75 535.00,347.50 536.25,347.50 537.50,358.75 538.75,362.50 540.00,370.00 540.60,375.00 541.25,365.00 542.50,335.00 543.10,327.50 544.40,316.25 545.60,312.50 546.90,318.75 548.10,312.50 549.40,317.50 550.60,320.00 551.90,316.25 553.10,313.75 554.40,307.50 555.00,320.00 556.25,335.00 557.50,340.00 558.75,350.00 559.40,358.75 560.00,347.50 561.25,343.75 562.50,340.00 563.75,346.25 565.00,350.00 565.60,358.75 566.90,350.00 568.10,342.50 569.40,345.00 570.60,350.00 571.90,352.50 573.10,353.75 574.40,351.25 575.60,355.00 576.90,360.00 577.50,377.50 578.10,362.50 579.40,350.00 580.60,343.75 581.25,337.50 582.50,338.75 583.75,353.75 585.00,355.00 586.25,353.75 587.50,351.25 588.75,341.25 590.00,332.50 591.25,330.00 592.50,322.50 593.75,320.00 595.00,312.50 595.60,302.50 596.25,310.00 596.90,321.25 597.50,329.00 598.75,333.75 600.00,336.25 601.25,316.25 602.50,298.75 603.50,293.10 604.40,300.00 605.00,298.75 606.25,299.40 607.50,308.75 608.75,312.50 610.00,313.75 611.25,312.50 612.50,315.00 613.10,337.50 613.75,356.25 614.40,366.25 615.00,372.50 616.25,371.25 617.50,367.50 618.75,365.00 620.00,372.50 620.60,375.00 621.25,370.00 622.50,362.50 623.10,358.75 623.75,365.00 625.00,375.00 625.60,362.50 626.25,361.25 627.50,357.50 628.10,347.50 629.40,335.00 630.00,347.50 631.25,357.50 631.90,343.75 632.50,337.50 633.75,335.00 634.40,326.25 635.00,332.50 636.25,340.00 637.50,342.50 638.75,338.75 640.00,337.50 641.25,340.00 642.50,342.50 643.75,337.50 645.00,337.50 646.25,340.00 647.50,350.00 648.10,343.75 648.75,322.50 650.00,320.00 651.25,323.75 652.50,327.50 653.75,322.50 655.00,327.50 655.60,340.00 656.25,350.00 657.50,346.25 658.75,360.00 660.00,363.75 661.25,357.50 662.50,360.00 663.75,363.75 665.00,368.75 665.60,360.00 666.90,346.25 668.10,340.00 669.40,336.25 670.60,331.25 671.25,328.10 671.90,328.75 673.10,331.25 674.40,333.75 675.60,338.75 676.25,347.50 677.50,337.50 678.75,333.75 679.40,333.75 680.60,317.50 681.25,307.50 681.90,310.00 682.50,321.25 683.10,325.00 683.75,321.25 685.00,320.00 686.25,322.50 687.50,326.25 688.75,329.00 690.00,331.00 691.25,333.00 692.50,333.00 693.75,328.75 695.00,325.00 696.25,321.25 696.90,320.00 697.50,322.50 698.10,337.50 698.75,348.75 699.40,363.75 700.00,355.00 700.60,360.00 701.25,357.50 702.50,360.00 703.75,358.75 704.40,362.50 705.60,357.50 706.90,363.75 707.50,371.25 708.10,361.25 709.40,360.00 710.60,367.50 711.25,376.25 711.90,363.75 712.50,352.50 713.10,326.25 713.75,317.50 715.00,315.00 716.25,316.25 717.50,318.75 718.75,325.00 720.00,318.75 720.60,317.50 721.25,320.00 722.50,322.50 723.75,323.75 725.00,317.50 726.25,313.75 726.90,310.00 728.10,309.40 729.40,307.50 730.00,302.50 730.60,300.00 731.25,296.25 731.90,313.75 732.50,336.00 733.10,332.50 733.75,332.50 735.00,335.00 736.25,336.25 737.50,335.00 738.75,336.25 740.00,335.00 741.25,340.00 742.50,331.00 743.75,326.25 745.00,321.25 746.25,315.00 746.90,313.75 747.50,330.00 748.10,355.00 749.40,348.75 750.60,345.00 751.90,346.25 753.10,343.75 754.40,353.75 755.60,350.00 756.90,348.75 758.10,347.50 759.40,346.25 760.60,332.50 761.90,340.00 763.10,341.25 764.40,338.75 765.00,327.50 765.60,316.25 766.25,326.25 766.90,310.00 767.50,302.50 768.10,301.25 768.75,310.00 770.00,315.00 770.60,322.50 771.25,330.00 771.90,331.25 772.50,322.50 773.75,323.75 775.00,325.00 776.25,322.50 776.90,316.25 777.50,312.30" fill="none" stroke="#7e57c2" stroke-width="0.9" stroke-linejoin="round"/>
<polyline points="0.00,322.50 2.50,315.00 5.00,310.60 6.90,313.75 8.75,321.25 11.25,330.00 13.75,335.50 15.60,337.50 18.10,333.00 20.60,328.10 23.10,328.75 25.00,333.00 26.25,340.00 28.10,348.75 30.60,352.50 32.50,353.10 34.40,346.25 35.60,340.00 37.50,342.50 40.00,345.00 41.90,347.50 43.10,350.00 45.00,346.25 47.50,343.75 50.00,342.50 52.50,340.00 55.00,335.00 57.50,332.20 60.00,333.00 62.50,336.25 64.40,342.50 66.25,345.00 68.10,343.75 70.00,341.25 72.50,336.25 74.40,331.25 76.25,325.00 80.00,320.00 83.75,316.90 87.50,312.50 90.00,307.50 92.50,303.75 95.00,306.25 97.50,313.75 100.00,323.75 102.50,328.75 105.00,325.00 107.50,323.10 109.40,321.25 110.60,325.00 111.90,332.50 112.50,337.50 113.75,346.25 115.60,355.00 116.90,363.75 118.10,368.75 120.00,366.25 121.90,355.00 123.75,345.00 125.00,337.00 126.25,333.10 128.75,333.10 131.25,335.00 133.75,336.25 136.25,335.00 137.50,336.25 140.00,345.00 142.50,352.50 145.00,360.00 147.50,356.25 150.00,356.25 152.50,353.75 155.00,348.75 157.50,340.00 160.00,332.50 161.25,330.00 162.50,331.25 163.75,336.25 166.25,347.50 168.10,352.50 170.00,351.90 172.50,347.50 175.00,340.00 177.50,332.50 178.75,328.75 180.60,328.75 182.50,333.00 185.00,337.50 187.50,341.25 190.00,346.25 192.50,350.60 195.00,348.75 197.50,341.00 200.00,333.00 202.50,325.00 205.00,323.75 207.50,323.10 210.00,324.40 212.50,326.25 215.00,328.50 217.50,330.50 220.00,334.00 223.75,341.25 226.25,345.00 228.75,343.75 231.25,346.25 233.75,347.50 236.25,349.40 238.75,348.75 241.25,349.40 243.75,346.25 246.25,342.50 248.10,340.00 250.00,343.75 251.90,349.40 253.75,350.60 255.60,350.60 257.50,346.25 260.00,340.00 262.50,336.25 265.00,333.00 267.50,329.00 270.00,325.00 272.50,320.00 275.00,321.25 277.50,321.25 280.00,320.00 282.50,316.25 285.00,313.10 287.50,311.90 290.00,311.25 292.50,312.50 295.00,309.40 297.50,305.00 300.00,300.00 302.50,305.00 305.00,312.50 307.50,316.25 310.00,318.75 312.50,320.60 315.00,320.00 317.50,317.50 320.00,312.50 322.50,306.25 325.00,301.25 327.50,295.00 329.40,291.25 331.25,291.90 333.75,293.75 336.25,297.50 338.75,307.50 341.25,317.50 342.50,325.00 345.00,330.00 347.50,335.00 350.00,337.50 352.50,341.25 355.00,346.25 357.50,348.10 360.00,343.75 362.50,337.50 365.00,331.25 367.50,325.00 370.00,323.75 371.90,327.50 375.00,340.00 377.50,350.00 380.00,350.00 382.50,340.00 385.00,330.00 387.50,322.50 390.00,312.50 391.90,310.00 393.75,316.25 396.25,324.00 398.75,336.00 400.00,345.00 402.50,358.75 405.00,358.75 407.50,358.75 410.00,360.60 412.50,365.00 415.00,367.50 417.50,362.50 420.00,353.75 422.50,342.50 425.00,330.00 426.90,326.50 428.75,331.50 431.25,341.25 434.40,347.50 436.90,342.50 439.40,350.00 441.90,360.00 444.40,365.00 446.90,363.75 449.40,357.50 451.90,356.90 454.40,358.10 456.90,365.00 458.75,368.75 461.25,361.25 463.75,347.50 465.60,335.00 466.25,327.50 468.10,315.00 470.00,310.00 471.90,308.10 473.75,304.40 475.60,307.50 477.50,309.40 480.00,308.10 482.50,306.25 484.40,301.90 486.25,310.00 488.10,320.00 490.00,332.00 492.50,351.25 495.00,355.00 497.50,353.10 500.00,350.00 502.50,337.50 505.00,331.00 507.50,328.75 510.00,337.50 512.50,347.50 515.00,351.90 517.50,347.50 520.00,345.60 522.50,345.00 524.40,348.10 526.25,356.25 528.75,365.00 531.25,373.75 533.75,370.00 536.25,361.25 538.75,355.00 541.25,361.25 543.10,357.50 545.00,347.50 546.90,335.00 548.50,327.00 549.40,323.75 551.25,317.50 553.10,316.25 555.00,316.25 556.90,321.25 558.75,329.00 560.60,335.00 562.50,343.75 565.00,350.00 567.50,348.75 570.00,349.40 572.50,349.40 575.00,350.00 577.50,356.25 580.00,355.00 582.50,351.90 585.00,350.00 587.50,348.10 590.00,346.25 592.50,340.00 595.00,331.00 596.90,323.75 598.75,322.50 600.00,323.75 602.50,317.50 605.00,310.00 607.50,305.00 609.40,303.10 611.25,306.25 613.10,312.50 615.00,324.00 617.50,343.75 620.00,360.00 621.25,370.00 623.10,368.75 625.00,367.50 626.90,365.00 628.75,358.75 631.25,350.00 633.75,343.75 636.25,340.00 638.75,338.10 641.25,340.00 643.75,337.50 646.25,338.75 648.75,341.25 651.25,336.25 653.75,330.00 655.60,326.50 657.50,331.00 660.00,343.75 662.50,353.75 665.00,360.00 666.90,360.00 668.75,352.50 671.25,343.75 673.75,336.25 676.25,335.00 678.75,335.00 680.00,332.50 682.50,326.25 685.00,322.50 687.50,321.25 690.00,324.00 692.50,328.00 695.00,330.50 697.50,329.00 700.00,331.00 702.50,345.00 705.00,356.25 707.50,361.25 710.00,363.75 712.50,363.75 714.40,351.25 716.25,340.00 718.75,327.50 721.25,320.00 723.75,321.25 726.25,320.00 728.75,316.25 731.25,312.50 732.50,313.75 735.00,321.25 737.50,328.75 740.00,334.00 742.50,335.60 745.00,332.50 747.50,330.00 750.00,336.25 752.50,343.75 755.00,348.75 758.10,348.75 761.25,343.75 763.75,340.00 766.25,336.25 768.10,331.25 770.00,323.75 772.50,320.00 775.00,318.75 777.50,323.60" fill="none" stroke="#fdd835" stroke-width="0.8" stroke-linejoin="round"/>
</g>
<text transform="scale(0.92 1)" x="0.33" y="9.9" font-size="6.7" fill="#131722" stroke="#131722" stroke-width="0.14" text-anchor="start" font-weight="normal">allisaiah created with TradingView.com, Dec 05, 2025 09:00 UTC</text>
<text transform="scale(0.925 1)" x="94.05" y="24.0" font-size="6.3" fill="#131722" stroke="#131722" stroke-width="0.14" text-anchor="end" font-weight="normal">NVIDIA Corporation · 30 · NASDAQ</text>
<text transform="scale(0.925 1)" x="98.38" y="24.0" font-size="6.3" fill="#2962ff" stroke="#2962ff" stroke-width="0.14" text-anchor="start" font-weight="normal">184.58</text>
<text transform="scale(0.925 1)" x="122.16" y="24.0" font-size="6.3" fill="#2962ff" stroke="#2962ff" stroke-width="0.14" text-anchor="start" font-weight="normal">+1.11 (+0.61%)</text>
<text transform="scale(0.96 1)" x="36.46" y="32.9" font-size="6.3" fill="#131722" stroke="#131722" stroke-width="0.14" text-anchor="end" font-weight="normal">SMA (20, close)</text>
<text transform="scale(0.925 1)" x="42.59" y="32.9" font-size="6.3" fill="#00bcd4" stroke="#00bcd4" stroke-width="0.14" text-anchor="start" font-weight="normal">183.26</text>
<text transform="scale(0.952 1)" x="39.92" y="41.6" font-size="6.3" fill="#131722" stroke="#131722" stroke-width="0.14" text-anchor="end" font-weight="normal">SMA (200, close)</text>
<text transform="scale(0.925 1)" x="45.95" y="41.6" font-size="6.3" fill="#f23645" stroke="#f23645" stroke-width="0.14" text-anchor="start" font-weight="normal">179.88</text>
<text transform="scale(0.945 1)" x="56.72" y="50.6" font-size="6.3" fill="#131722" stroke="#131722" stroke-width="0.14" text-anchor="end" font-weight="normal">BB (20, SMA, close, 2)</text>
<text transform="scale(0.925 1)" x="62.81" y="50.6" font-size="6.3" fill="#2962ff" stroke="#2962ff" stroke-width="0.14" text-anchor="start" font-weight="normal">183.26</text>
<text transform="scale(0.925 1)" x="86.49" y="50.6" font-size="6.3" fill="#f23645" stroke="#f23645" stroke-width="0.14" text-anchor="start" font-weight="normal">184.51</text>
<text transform="scale(0.925 1)" x="110.54" y="50.6" font-size="6.3" fill="#089981" stroke="#089981" stroke-width="0.14" text-anchor="start" font-weight="normal">182.00</text>
<text transform="scale(0.969 1)" x="33.54" y="279.7" font-size="6.3" fill="#131722" stroke="#131722" stroke-width="0.14" text-anchor="end" font-weight="normal">RSI (14, close)</text>
<text transform="scale(0.925 1)" x="39.46" y="279.7" font-size="6.3" fill="#7e57c2" stroke="#7e57c2" stroke-width="0.14" text-anchor="start" font-weight="normal">67.88</text>
<text transform="scale(0.925 1)" x="60.00" y="279.7" font-size="6.3" fill="#fdd835" stroke="#fdd835" stroke-width="0.14" text-anchor="start" font-weight="normal">59.77</text>
<text transform="scale(1.0 1)" x="787.90" y="42.2" font-size="6.3" fill="#131722" stroke="#131722" stroke-width="0.05" text-anchor="start" font-weight="normal">212.00</text>
<text transform="scale(1.0 1)" x="787.90" y="62.464" font-size="6.3" fill="#131722" stroke="#131722" stroke-width="0.05" text-anchor="start" font-weight="normal">208.00</text>
<text transform="scale(1.0 1)" x="787.90" y="82.728" font-size="6.3" fill="#131722" stroke="#131722" stroke-width="0.05" text-anchor="start" font-weight="normal">204.00</text>
<text transform="scale(1.0 1)" x="787.90" y="102.992" font-size="6.3" fill="#131722" stroke="#131722" stroke-width="0.05" text-anchor="start" font-weight="normal">200.00</text>
<text transform="scale(1.0 1)" x="787.90" y="123.256" font-size="6.3" fill="#131722" stroke="#131722" stroke-width="0.05" text-anchor="start" font-weight="normal">196.00</text>
<text transform="scale(1.0 1)" x="787.90" y="143.51999999999998" font-size="6.3" fill="#131722" stroke="#131722" stroke-width="0.05" text-anchor="start" font-weight="normal">192.00</text>
<text transform="scale(1.0 1)" x="787.90" y="163.784" font-size="6.3" fill="#131722" stroke="#131722" stroke-width="0.05" text-anchor="start" font-weight="normal">188.00</text>
<text transform="scale(1.0 1)" x="787.90" y="204.31199999999998" font-size="6.3" fill="#131722" stroke="#131722" stroke-width="0.05" text-anchor="start" font-weight="normal">180.00</text>
<text transform="scale(1.0 1)" x="787.90" y="224.576" font-size="6.3" fill="#131722" stroke="#131722" stroke-width="0.05" text-anchor="start" font-weight="normal">176.00</text>
<text transform="scale(1.0 1)" x="787.90" y="244.83999999999997" font-size="6.3" fill="#131722" stroke="#131722" stroke-width="0.05" text-anchor="start" font-weight="normal">172.00</text>
<text transform="scale(1.0 1)" x="787.90" y="265.104" font-size="6.3" fill="#131722" stroke="#131722" stroke-width="0.05" text-anchor="start" font-weight="normal">168.00</text>
<text transform="scale(1.0 1)" x="787.90" y="298.2" font-size="6.3" fill="#131722" stroke="#131722" stroke-width="0.05" text-anchor="start" font-weight="normal">80.00</text>
<text transform="scale(1.0 1)" x="787.90" y="325.95" font-size="6.3" fill="#131722" stroke="#131722" stroke-width="0.05" text-anchor="start" font-weight="normal">60.00</text>
<text transform="scale(1.0 1)" x="787.90" y="353.7" font-size="6.3" fill="#131722" stroke="#131722" stroke-width="0.05" text-anchor="start" font-weight="normal">40.00</text>
<text transform="scale(1.0 1)" x="787.90" y="381.45" font-size="6.3" fill="#131722" stroke="#131722" stroke-width="0.05" text-anchor="start" font-weight="normal">20.00</text>
<rect x="784.8" y="16.1" width="20" height="12.8" rx="2.5" fill="#fff" stroke="#e0e3eb" stroke-width="0.6"/>
<text transform="scale(0.925 1)" x="853.95" y="24.6" font-size="6.3" fill="#131722" stroke="#131722" stroke-width="0.14" text-anchor="start" font-weight="normal">USD</text>
<rect x="763.4" y="174.1" width="40" height="8.8" rx="1.6" fill="#2962ff"/>
<line x1="783.3" x2="783.3" y1="174.1" y2="182.9" stroke="#ffffff" stroke-opacity="0.35" stroke-width="0.5"/>
<text transform="scale(0.925 1)" x="836.32" y="180.8" font-size="6.3" fill="#fff" stroke="#fff" stroke-width="0.1" text-anchor="middle" font-weight="normal">NVDA</text>
<text transform="scale(0.97 1)" x="812.47" y="181.0" font-size="6.8" fill="#fff" stroke="#fff" stroke-width="0.1" text-anchor="start" font-weight="normal">184.58</text>
<text transform="scale(0.925 1)" x="36.11" y="410.2" font-size="6.3" fill="#131722" stroke="#131722" stroke-width="0.08" text-anchor="middle" font-weight="normal">6</text>
<text transform="scale(0.925 1)" x="73.41" y="410.2" font-size="6.3" fill="#131722" stroke="#131722" stroke-width="0.08" text-anchor="middle" font-weight="normal">8</text>
<text transform="scale(0.925 1)" x="111.03" y="410.2" font-size="6.3" fill="#131722" stroke="#131722" stroke-width="0.08" text-anchor="middle" font-weight="normal">10</text>
<text transform="scale(0.925 1)" x="148.65" y="410.2" font-size="6.3" fill="#131722" stroke="#131722" stroke-width="0.08" text-anchor="middle" font-weight="normal">14</text>
<text transform="scale(0.925 1)" x="186.27" y="410.2" font-size="6.3" fill="#131722" stroke="#131722" stroke-width="0.08" text-anchor="middle" font-weight="normal">16</text>
<text transform="scale(0.925 1)" x="223.68" y="410.2" font-size="6.3" fill="#131722" stroke="#131722" stroke-width="0.08" text-anchor="middle" font-weight="normal">20</text>
<text transform="scale(0.925 1)" x="261.30" y="410.2" font-size="6.3" fill="#131722" stroke="#131722" stroke-width="0.08" text-anchor="middle" font-weight="normal">22</text>
<text transform="scale(0.925 1)" x="298.92" y="410.2" font-size="6.3" fill="#131722" stroke="#131722" stroke-width="0.08" text-anchor="middle" font-weight="normal">24</text>
<text transform="scale(0.925 1)" x="336.43" y="410.2" font-size="6.3" fill="#131722" stroke="#131722" stroke-width="0.08" text-anchor="middle" font-weight="normal">28</text>
<text transform="scale(0.925 1)" x="373.95" y="410.2" font-size="6.3" fill="#131722" stroke="#131722" stroke-width="0.08" text-anchor="middle" font-weight="normal">30</text>
<text transform="scale(0.925 1)" x="411.14" y="410.2" font-size="6.3" fill="#131722" stroke="#131722" stroke-width="0.0" text-anchor="middle" font-weight="bold">Nov</text>
<text transform="scale(0.925 1)" x="448.43" y="410.2" font-size="6.3" fill="#131722" stroke="#131722" stroke-width="0.08" text-anchor="middle" font-weight="normal">5</text>
<text transform="scale(0.925 1)" x="485.30" y="410.2" font-size="6.3" fill="#131722" stroke="#131722" stroke-width="0.08" text-anchor="middle" font-weight="normal">7</text>
<text transform="scale(0.925 1)" x="523.46" y="410.2" font-size="6.3" fill="#131722" stroke="#131722" stroke-width="0.08" text-anchor="middle" font-weight="normal">11</text>
<text transform="scale(0.925 1)" x="561.08" y="410.2" font-size="6.3" fill="#131722" stroke="#131722" stroke-width="0.08" text-anchor="middle" font-weight="normal">13</text>
<text transform="scale(0.925 1)" x="598.70" y="410.2" font-size="6.3" fill="#131722" stroke="#131722" stroke-width="0.08" text-anchor="middle" font-weight="normal">15</text>
<text transform="scale(0.925 1)" x="636.32" y="410.2" font-size="6.3" fill="#131722" stroke="#131722" stroke-width="0.08" text-anchor="middle" font-weight="normal">19</text>
<text transform="scale(0.925 1)" x="673.62" y="410.2" font-size="6.3" fill="#131722" stroke="#131722" stroke-width="0.08" text-anchor="middle" font-weight="normal">21</text>
<text transform="scale(0.925 1)" x="711.24" y="410.2" font-size="6.3" fill="#131722" stroke="#131722" stroke-width="0.08" text-anchor="middle" font-weight="normal">25</text>
<text transform="scale(0.925 1)" x="764.32" y="410.2" font-size="6.3" fill="#131722" stroke="#131722" stroke-width="0.0" text-anchor="middle" font-weight="bold">Dec</text>
<text transform="scale(0.925 1)" x="802.27" y="410.2" font-size="6.3" fill="#131722" stroke="#131722" stroke-width="0.08" text-anchor="middle" font-weight="normal">3</text>
<text transform="scale(0.925 1)" x="839.89" y="410.2" font-size="6.3" fill="#131722" stroke="#131722" stroke-width="0.08" text-anchor="middle" font-weight="normal">5</text>
<line x1="0" x2="800" y1="414.3" y2="414.3" stroke="#f2f3f5" stroke-width="0.8"/>
<path d="M597.9 260 L602.7 257.2 L607.5 260 L607.5 266.3 Q607.5 267.3 606.5 267.3 L598.9 267.3 Q597.9 267.3 597.9 266.3 Z" fill="#fff" stroke="#22ab94" stroke-width="0.85"/>
<text x="602.7" y="265.4" font-size="4.6" font-weight="bold" fill="#22ab94" text-anchor="middle">E</text>
<circle cx="759.75" cy="262.25" r="5" fill="#fff" stroke="#5b8def" stroke-width="0.9"/>
<text x="759.8" y="264.3" font-size="5.6" font-weight="bold" fill="#5b8def" text-anchor="middle">D</text>
<circle cx="777.25" cy="262.25" r="5" fill="#fff" stroke="#b05ec6" stroke-width="0.9"/>
<path d="M778.4 259.2 L775.6 262.6 L777.3 262.6 L776.2 265.4 L779.1 261.8 L777.4 261.8 Z" fill="#a44fc0"/>
<path d="M771.8 262.9 L773.4 264.5 L771.8 266.1 L770.2 264.5 Z" fill="#3f6bea"/>
<circle cx="-0.9" cy="428.2" r="2.1" fill="#131722"/>
<path d="M1.7 425.4 L5.5 425.4 L3.0 432.8 L-0.8 432.8 Z" fill="#131722"/>
<text x="9.4" y="433" font-size="10.2" fill="#131722" font-weight="bold" textLength="61.6" lengthAdjust="spacingAndGlyphs">TradingView</text>
</svg></body></html>
